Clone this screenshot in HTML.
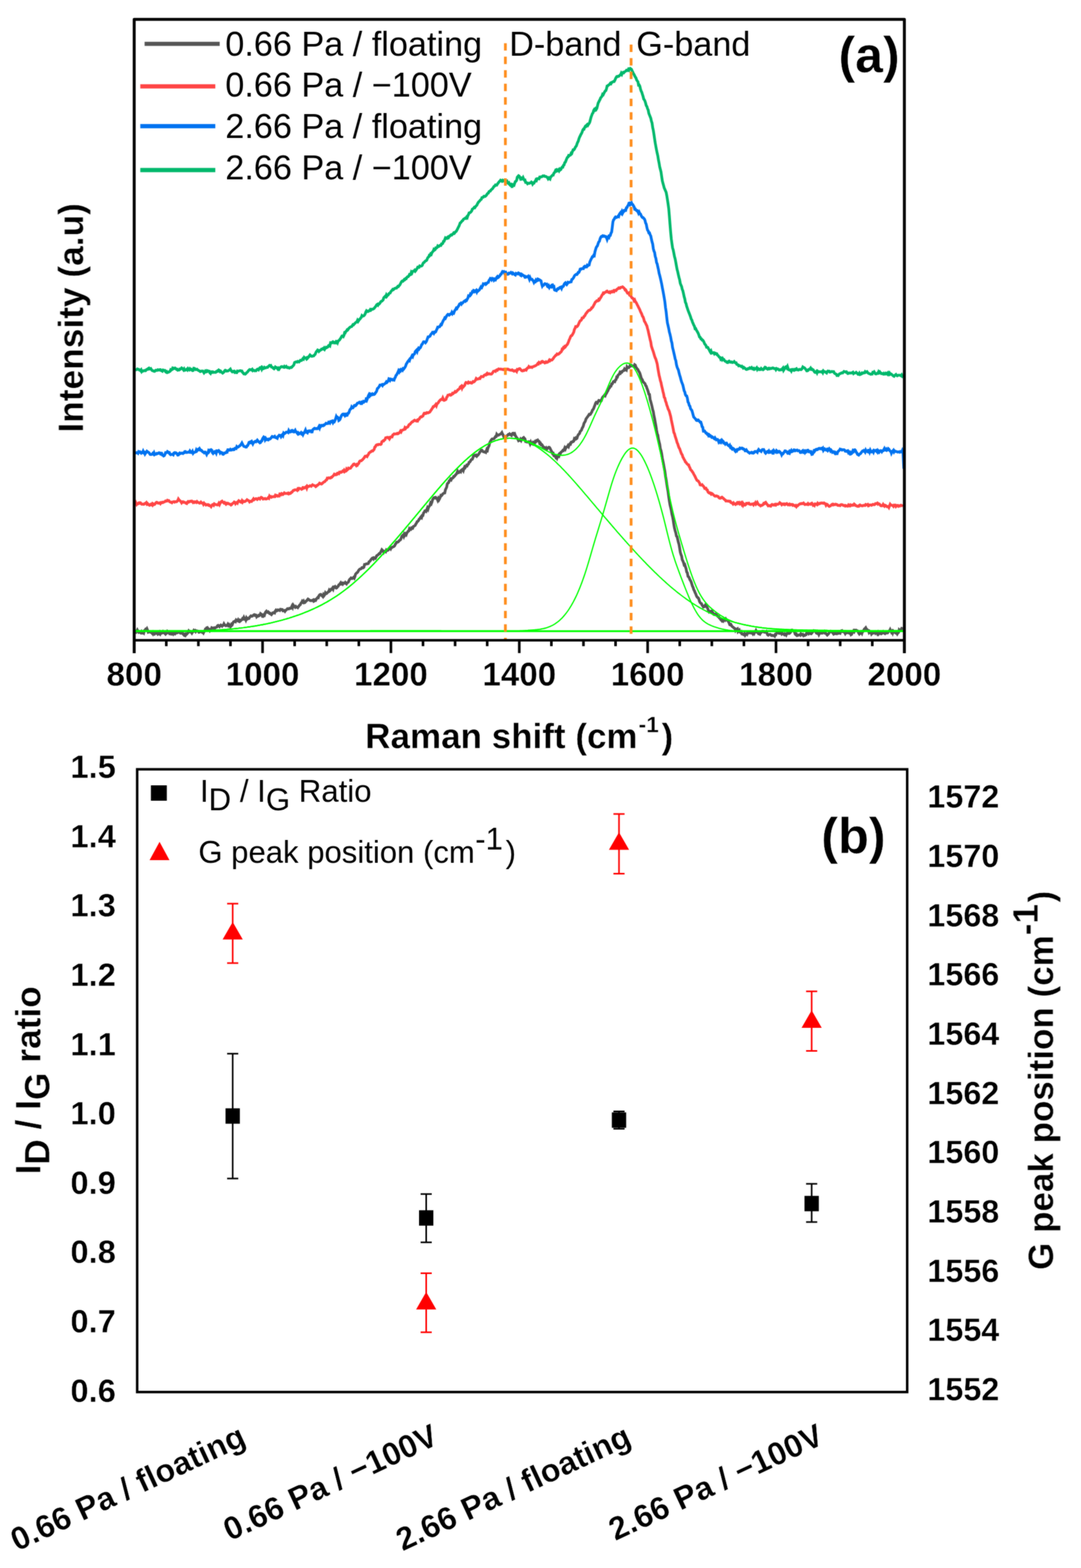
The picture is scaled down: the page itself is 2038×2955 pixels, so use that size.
<!DOCTYPE html>
<html lang="en"><head><meta charset="utf-8"><title>Raman spectra</title>
<style>
html,body{margin:0;padding:0;background:#fff;}
body{width:2038px;height:2955px;overflow:hidden;}
svg{display:block;}
#fig{width:2038px;height:2955px;}
text{font-family:'Liberation Sans', Arial, Helvetica, sans-serif;fill:#000;}
.b{font-weight:bold;stroke:#fff;stroke-width:0.5px;stroke-linejoin:round;}
</style></head><body>
<div id="fig">
<svg width="2038" height="2955" viewBox="0 0 2038 2955">
<rect x="0" y="0" width="2038" height="2955" fill="#ffffff"/>

<defs><filter id="soft" x="0" y="0" width="2038" height="2955" filterUnits="userSpaceOnUse" color-interpolation-filters="sRGB"><feGaussianBlur in="SourceGraphic" stdDeviation="1" result="b"/><feComposite in="SourceGraphic" in2="b" operator="arithmetic" k1="0" k2="0.5" k3="0.5" k4="0"/></filter></defs>
<g id="figure" filter="url(#soft)">
<g id="panel-a">
<clipPath id="ca"><rect x="253.0" y="36.6" width="1452.0" height="1169.7"/></clipPath>
<g clip-path="url(#ca)" fill="none" stroke-linejoin="miter" stroke-miterlimit="3" stroke-linecap="butt">
<path d="M255.2 696.9L256.5 696.9L257.7 696.5L258.9 695.3L260.1 695.9L261.3 696.0L262.5 697.2L263.7 697.1L264.9 698.5L266.1 697.0L267.3 700.3L268.6 698.9L269.8 699.4L271.0 698.6L272.2 698.2L273.4 698.7L274.6 698.5L275.8 696.8L277.0 696.1L278.2 696.1L279.4 694.4L280.7 693.7L281.9 695.5L283.1 695.1L284.3 694.6L285.5 696.6L286.7 698.2L287.9 698.8L289.1 698.9L290.3 699.8L291.5 699.9L292.8 698.5L294.0 697.6L295.2 698.1L296.4 698.0L297.6 696.8L298.8 697.2L300.0 697.5L301.2 696.6L302.4 696.6L303.6 698.3L304.9 698.8L306.1 699.6L307.3 697.3L308.5 697.6L309.7 697.8L310.9 697.9L312.1 700.5L313.3 701.4L314.5 700.4L315.7 702.1L317.0 701.6L318.2 701.2L319.4 700.3L320.6 699.7L321.8 696.7L323.0 697.4L324.2 696.6L325.4 693.9L326.6 694.9L327.8 693.8L329.1 694.3L330.3 693.7L331.5 694.8L332.7 696.1L333.9 695.8L335.1 697.6L336.3 697.1L337.5 697.2L338.7 695.5L339.9 695.9L341.2 694.6L342.4 693.4L343.6 694.2L344.8 695.6L346.0 697.2L347.2 695.3L348.4 697.8L349.6 697.5L350.8 696.9L352.0 695.8L353.3 697.2L354.5 694.7L355.7 696.1L356.9 697.0L358.1 695.0L359.3 696.4L360.5 695.9L361.7 697.4L362.9 698.4L364.1 698.2L365.4 694.0L366.6 694.2L367.8 695.2L369.0 696.6L370.2 696.3L371.4 695.8L372.6 697.2L373.8 697.8L375.0 698.7L376.2 699.1L377.5 700.2L378.7 699.8L379.9 699.2L381.1 699.3L382.3 699.2L383.5 700.8L384.7 702.8L385.9 701.3L387.1 699.3L388.3 700.4L389.6 698.8L390.8 699.9L392.0 698.8L393.2 699.3L394.4 699.4L395.6 702.5L396.8 703.7L398.0 700.7L399.2 700.5L400.4 701.7L401.7 700.9L402.9 701.8L404.1 701.7L405.3 701.7L406.5 701.8L407.7 700.2L408.9 700.3L410.1 698.8L411.3 699.3L412.5 697.3L413.8 698.1L415.0 700.3L416.2 699.6L417.4 701.3L418.6 702.0L419.8 703.1L421.0 702.3L422.2 701.2L423.4 698.8L424.6 697.8L425.9 698.3L427.1 699.4L428.3 699.2L429.5 699.1L430.7 698.4L431.9 697.7L433.1 696.7L434.3 695.6L435.5 698.1L436.7 699.5L438.0 700.9L439.2 700.6L440.4 699.4L441.6 699.3L442.8 701.8L444.0 701.2L445.2 702.2L446.4 702.3L447.6 699.3L448.8 699.8L450.1 699.3L451.3 698.9L452.5 698.6L453.7 698.6L454.9 699.4L456.1 699.3L457.3 701.9L458.5 702.8L459.7 704.6L460.9 704.5L462.2 705.0L463.4 704.2L464.6 702.7L465.8 701.8L467.0 700.6L468.2 698.8L469.4 697.7L470.6 696.5L471.8 696.9L473.0 696.6L474.3 697.3L475.5 696.1L476.7 698.5L477.9 697.7L479.1 698.2L480.3 698.9L481.5 698.4L482.7 698.6L483.9 697.1L485.1 695.9L486.4 695.5L487.6 696.8L488.8 695.0L490.0 693.2L491.2 693.7L492.4 692.5L493.6 695.7L494.8 693.3L496.0 695.0L497.2 694.6L498.5 692.4L499.7 693.3L500.9 693.4L502.1 692.5L503.3 692.1L504.5 692.3L505.7 690.8L506.9 689.9L508.1 688.7L509.3 689.3L510.6 688.8L511.8 691.7L513.0 692.0L514.2 692.6L515.4 694.2L516.6 695.0L517.8 693.6L519.0 691.6L520.2 692.6L521.4 692.6L522.7 694.3L523.9 695.7L525.1 693.9L526.3 695.4L527.5 693.2L528.7 692.4L529.9 691.1L531.1 690.9L532.3 691.0L533.5 691.9L534.8 692.1L536.0 690.6L537.2 692.0L538.4 691.4L539.6 690.5L540.8 692.5L542.0 693.0L543.2 692.4L544.4 693.3L545.6 693.8L546.9 692.8L548.1 692.2L549.3 692.6L550.5 691.6L551.7 690.0L552.9 689.1L554.1 687.4L555.3 683.3L556.5 682.6L557.7 682.1L559.0 681.9L560.2 682.4L561.4 681.1L562.6 681.5L563.8 682.0L565.0 680.6L566.2 679.1L567.4 679.6L568.6 679.2L569.8 677.4L571.1 675.7L572.3 676.7L573.5 673.7L574.7 674.9L575.9 674.7L577.1 674.3L578.3 676.7L579.5 675.7L580.7 673.1L581.9 672.9L583.2 670.6L584.4 668.9L585.6 670.1L586.8 671.1L588.0 671.5L589.2 671.1L590.4 670.9L591.6 670.7L592.8 668.9L594.0 668.1L595.3 664.8L596.5 662.6L597.7 661.4L598.9 659.6L600.1 660.2L601.3 662.3L602.5 661.2L603.7 660.0L604.9 659.6L606.1 658.0L607.4 658.1L608.6 657.0L609.8 657.7L611.0 655.9L612.2 658.0L613.4 656.0L614.6 654.6L615.8 655.2L617.0 654.3L618.2 653.7L619.5 651.1L620.7 650.7L621.9 651.7L623.1 646.1L624.3 646.5L625.5 645.4L626.7 645.7L627.9 644.2L629.1 644.9L630.3 646.1L631.6 645.3L632.8 646.0L634.0 643.2L635.2 643.5L636.4 645.7L637.6 642.5L638.8 641.6L640.0 640.8L641.2 638.8L642.4 637.4L643.7 634.9L644.9 633.0L646.1 633.0L647.3 634.2L648.5 631.8L649.7 626.8L650.9 627.1L652.1 624.5L653.3 623.8L654.5 621.4L655.8 621.6L657.0 619.5L658.2 618.4L659.4 617.0L660.6 616.2L661.8 615.7L663.0 615.5L664.2 613.6L665.4 611.7L666.6 612.2L667.9 610.5L669.1 609.5L670.3 608.0L671.5 607.4L672.7 606.5L673.9 603.8L675.1 605.9L676.3 604.2L677.5 601.9L678.7 601.3L680.0 599.3L681.2 598.0L682.4 594.8L683.6 595.9L684.8 595.5L686.0 595.1L687.2 593.7L688.4 591.7L689.6 588.0L690.8 585.8L692.1 587.1L693.3 586.2L694.5 586.8L695.7 585.7L696.9 585.6L698.1 583.4L699.3 584.3L700.5 582.8L701.7 582.9L702.9 582.7L704.2 581.8L705.4 581.2L706.6 579.4L707.8 578.2L709.0 576.4L710.2 574.3L711.4 573.5L712.6 574.9L713.8 572.7L715.0 572.8L716.3 571.2L717.5 569.1L718.7 567.8L719.9 567.5L721.1 566.5L722.3 565.1L723.5 561.3L724.7 559.7L725.9 558.6L727.1 559.4L728.4 555.9L729.6 558.0L730.8 556.3L732.0 555.7L733.2 553.4L734.4 552.6L735.6 552.2L736.8 549.6L738.0 548.3L739.2 547.0L740.5 545.2L741.7 545.8L742.9 544.6L744.1 543.5L745.3 543.4L746.5 542.6L747.7 542.7L748.9 541.1L750.1 539.5L751.3 539.9L752.6 538.1L753.8 536.9L755.0 534.6L756.2 532.2L757.4 530.3L758.6 529.4L759.8 529.9L761.0 528.7L762.2 526.6L763.4 527.0L764.7 524.9L765.9 525.1L767.1 522.8L768.3 521.5L769.5 521.4L770.7 520.0L771.9 517.4L773.1 517.9L774.3 517.5L775.5 512.9L776.8 514.4L778.0 511.4L779.2 511.0L780.4 510.9L781.6 509.4L782.8 511.2L784.0 509.7L785.2 507.5L786.4 506.1L787.6 503.3L788.9 503.0L790.1 503.6L791.3 501.2L792.5 501.8L793.7 501.5L794.9 501.1L796.1 500.0L797.3 496.8L798.5 494.9L799.7 494.5L801.0 492.7L802.2 491.6L803.4 491.4L804.6 490.2L805.8 487.0L807.0 484.8L808.2 484.1L809.4 481.0L810.6 481.3L811.8 478.6L813.1 479.4L814.3 476.3L815.5 474.6L816.7 473.3L817.9 470.1L819.1 471.3L820.3 470.5L821.5 467.3L822.7 467.6L823.9 466.7L825.2 463.7L826.4 464.8L827.6 464.3L828.8 462.8L830.0 462.2L831.2 462.5L832.4 459.7L833.6 459.7L834.8 458.8L836.0 454.8L837.3 454.6L838.5 451.4L839.7 448.4L840.9 449.3L842.1 448.2L843.3 448.9L844.5 446.9L845.7 447.7L846.9 445.1L848.1 445.0L849.4 443.2L850.6 442.4L851.8 442.9L853.0 441.6L854.2 440.6L855.4 438.9L856.6 439.7L857.8 438.2L859.0 436.5L860.2 436.0L861.5 433.5L862.7 431.3L863.9 428.7L865.1 426.7L866.3 423.7L867.5 420.3L868.7 419.5L869.9 418.0L871.1 416.3L872.3 415.8L873.6 413.4L874.8 412.4L876.0 411.9L877.2 411.0L878.4 411.5L879.6 409.3L880.8 410.3L882.0 406.4L883.2 404.4L884.4 401.1L885.7 401.0L886.9 400.2L888.1 398.9L889.3 397.5L890.5 394.1L891.7 393.4L892.9 392.3L894.1 390.7L895.3 391.3L896.5 389.4L897.8 387.9L899.0 386.8L900.2 383.9L901.4 382.0L902.6 380.1L903.8 379.4L905.0 377.6L906.2 376.4L907.4 375.6L908.6 372.3L909.9 371.9L911.1 371.6L912.3 369.8L913.5 369.8L914.7 370.1L915.9 369.0L917.1 367.8L918.3 365.8L919.5 364.4L920.7 363.9L922.0 361.0L923.2 360.2L924.4 360.1L925.6 358.1L926.8 357.1L928.0 356.1L929.2 354.7L930.4 352.7L931.6 351.0L932.8 350.6L934.1 348.5L935.3 348.8L936.5 349.0L937.7 347.0L938.9 345.4L940.1 343.8L941.3 342.2L942.5 341.3L943.7 339.6L944.9 340.2L946.2 341.4L947.4 340.0L948.6 341.3L949.8 340.6L951.0 339.5L952.2 340.5L953.4 340.3L954.6 342.2L955.8 341.4L957.0 344.7L958.3 345.5L959.5 344.5L960.7 347.5L961.9 348.8L963.1 347.7L964.3 350.2L965.5 348.5L966.7 350.3L967.9 348.4L969.1 349.0L970.4 345.2L971.6 342.0L972.8 341.6L974.0 339.8L975.2 333.9L976.4 332.6L977.6 331.2L978.8 331.9L980.0 334.5L981.2 337.1L982.5 335.8L983.7 337.5L984.9 336.7L986.1 334.6L987.3 337.6L988.5 339.5L989.7 339.3L990.9 343.7L992.1 343.8L993.3 344.5L994.6 346.4L995.8 345.5L997.0 345.2L998.2 345.5L999.4 344.7L1000.6 344.4L1001.8 343.1L1003.0 344.0L1004.2 346.9L1005.4 345.2L1006.7 345.2L1007.9 342.7L1009.1 341.6L1010.3 338.9L1011.5 340.0L1012.7 336.8L1013.9 337.0L1015.1 336.4L1016.3 336.9L1017.5 333.7L1018.8 334.0L1020.0 333.2L1021.2 333.2L1022.4 332.6L1023.6 331.4L1024.8 331.8L1026.0 331.4L1027.2 332.5L1028.4 332.6L1029.6 332.7L1030.9 333.8L1032.1 334.7L1033.3 336.9L1034.5 335.2L1035.7 336.4L1036.9 337.4L1038.1 333.6L1039.3 332.6L1040.5 331.2L1041.7 330.0L1043.0 330.0L1044.2 326.3L1045.4 325.4L1046.6 322.9L1047.8 320.1L1049.0 319.6L1050.2 322.2L1051.4 321.5L1052.6 320.2L1053.8 321.9L1055.1 319.0L1056.3 320.3L1057.5 319.4L1058.7 316.4L1059.9 314.9L1061.1 315.0L1062.3 311.4L1063.5 310.8L1064.7 306.6L1065.9 305.6L1067.2 302.2L1068.4 299.2L1069.6 296.6L1070.8 296.0L1072.0 293.1L1073.2 293.6L1074.4 292.6L1075.6 292.1L1076.8 288.6L1078.0 289.1L1079.3 285.2L1080.5 282.3L1081.7 282.5L1082.9 281.3L1084.1 278.6L1085.3 276.5L1086.5 275.2L1087.7 271.6L1088.9 268.4L1090.1 266.2L1091.4 261.7L1092.6 258.5L1093.8 256.3L1095.0 253.6L1096.2 251.7L1097.4 249.0L1098.6 245.4L1099.8 243.5L1101.0 243.6L1102.2 240.3L1103.5 238.1L1104.7 238.4L1105.9 235.7L1107.1 234.6L1108.3 236.1L1109.5 234.1L1110.7 232.6L1111.9 230.0L1113.1 225.5L1114.3 220.8L1115.6 217.3L1116.8 214.1L1118.0 212.7L1119.2 208.4L1120.4 206.4L1121.6 207.5L1122.8 205.1L1124.0 206.4L1125.2 204.3L1126.4 199.6L1127.7 194.2L1128.9 192.0L1130.1 189.4L1131.3 187.3L1132.5 184.2L1133.7 183.0L1134.9 181.3L1136.1 177.7L1137.3 178.4L1138.5 175.8L1139.8 173.4L1141.0 171.5L1142.2 170.8L1143.4 167.2L1144.6 162.1L1145.8 161.7L1147.0 160.4L1148.2 159.8L1149.4 158.8L1150.6 157.0L1151.9 157.8L1153.1 155.3L1154.3 155.0L1155.5 154.2L1156.7 153.4L1157.9 153.6L1159.1 151.7L1160.3 148.6L1161.5 146.0L1162.7 144.4L1164.0 144.6L1165.2 143.6L1166.4 143.7L1167.6 142.7L1168.8 141.6L1170.0 140.8L1171.2 137.9L1172.4 139.9L1173.6 137.0L1174.8 136.3L1176.1 137.1L1177.3 135.5L1178.5 134.9L1179.7 133.9L1180.9 132.5L1182.1 133.2L1183.3 133.1L1184.5 130.7L1185.7 132.0L1186.9 129.2L1188.2 128.8L1189.4 129.9L1190.6 130.7L1191.8 133.8L1193.0 135.8L1194.2 138.7L1195.4 140.4L1196.6 143.0L1197.8 145.1L1199.0 147.0L1200.3 150.8L1201.5 152.5L1202.7 154.0L1203.9 160.4L1205.1 160.2L1206.3 162.5L1207.5 167.7L1208.7 171.4L1209.9 173.8L1211.1 177.7L1212.4 181.8L1213.6 186.7L1214.8 188.2L1216.0 190.6L1217.2 194.5L1218.4 199.1L1219.6 200.6L1220.8 204.8L1222.0 207.2L1223.2 213.6L1224.5 216.8L1225.7 219.7L1226.9 222.8L1228.1 228.4L1229.3 231.9L1230.5 240.4L1231.7 245.8L1232.9 253.4L1234.1 261.7L1235.3 269.4L1236.6 276.6L1237.8 282.9L1239.0 288.7L1240.2 293.9L1241.4 301.6L1242.6 307.4L1243.8 314.8L1245.0 319.2L1246.2 324.0L1247.4 332.3L1248.7 341.0L1249.9 345.5L1251.1 349.8L1252.3 354.4L1253.5 356.9L1254.7 359.7L1255.9 362.6L1257.1 368.7L1258.3 376.2L1259.5 384.0L1260.8 393.5L1262.0 407.7L1263.2 423.3L1264.4 437.8L1265.6 450.3L1266.8 459.0L1268.0 467.2L1269.2 470.9L1270.4 477.1L1271.6 483.5L1272.9 488.0L1274.1 494.5L1275.3 501.3L1276.5 507.7L1277.7 512.2L1278.9 517.7L1280.1 522.9L1281.3 527.0L1282.5 533.8L1283.7 537.0L1285.0 539.9L1286.2 545.2L1287.4 548.1L1288.6 553.3L1289.8 559.0L1291.0 563.2L1292.2 569.8L1293.4 572.1L1294.6 577.2L1295.8 580.6L1297.1 584.6L1298.3 587.7L1299.5 590.7L1300.7 593.9L1301.9 597.0L1303.1 601.2L1304.3 603.0L1305.5 607.1L1306.7 609.6L1307.9 612.6L1309.2 614.8L1310.4 619.4L1311.6 619.3L1312.8 622.1L1314.0 623.9L1315.2 626.1L1316.4 628.4L1317.6 631.4L1318.8 635.0L1320.0 635.5L1321.3 638.6L1322.5 638.7L1323.7 641.0L1324.9 641.0L1326.1 642.7L1327.3 645.1L1328.5 648.1L1329.7 649.3L1330.9 651.2L1332.1 654.4L1333.4 654.4L1334.6 654.8L1335.8 657.5L1337.0 659.0L1338.2 661.7L1339.4 663.7L1340.6 661.7L1341.8 665.5L1343.0 665.1L1344.2 664.8L1345.5 664.6L1346.7 666.7L1347.9 665.2L1349.1 665.6L1350.3 667.1L1351.5 666.9L1352.7 669.4L1353.9 670.0L1355.1 671.7L1356.3 673.3L1357.6 673.7L1358.8 676.9L1360.0 675.8L1361.2 677.8L1362.4 675.8L1363.6 677.7L1364.8 677.5L1366.0 679.7L1367.2 680.8L1368.4 680.9L1369.7 682.4L1370.9 683.2L1372.1 683.3L1373.3 681.1L1374.5 680.5L1375.7 681.7L1376.9 682.6L1378.1 682.3L1379.3 682.1L1380.5 683.2L1381.8 683.0L1383.0 682.6L1384.2 681.4L1385.4 683.0L1386.6 683.8L1387.8 683.7L1389.0 686.6L1390.2 686.9L1391.4 687.3L1392.6 689.3L1393.9 688.9L1395.1 689.3L1396.3 690.2L1397.5 690.9L1398.7 690.2L1399.9 691.7L1401.1 693.4L1402.3 692.2L1403.5 693.2L1404.7 694.1L1406.0 695.7L1407.2 696.2L1408.4 696.0L1409.6 694.8L1410.8 695.1L1412.0 694.2L1413.2 693.2L1414.4 694.3L1415.6 693.5L1416.8 692.6L1418.1 694.7L1419.3 694.2L1420.5 695.6L1421.7 694.4L1422.9 695.8L1424.1 694.7L1425.3 694.3L1426.5 693.0L1427.7 696.1L1428.9 694.3L1430.2 695.1L1431.4 696.5L1432.6 695.9L1433.8 696.3L1435.0 694.5L1436.2 695.8L1437.4 695.8L1438.6 696.8L1439.8 696.0L1441.0 693.4L1442.3 692.0L1443.5 692.4L1444.7 694.4L1445.9 695.0L1447.1 695.7L1448.3 694.2L1449.5 693.8L1450.7 695.3L1451.9 694.9L1453.1 694.1L1454.4 694.5L1455.6 693.9L1456.8 693.3L1458.0 693.7L1459.2 694.6L1460.4 694.6L1461.6 694.5L1462.8 696.6L1464.0 694.7L1465.2 695.5L1466.5 695.2L1467.7 696.2L1468.9 697.3L1470.1 697.3L1471.3 696.6L1472.5 697.0L1473.7 696.7L1474.9 694.9L1476.1 693.5L1477.3 697.8L1478.6 695.8L1479.8 694.1L1481.0 691.6L1482.2 691.1L1483.4 693.2L1484.6 690.7L1485.8 694.3L1487.0 696.8L1488.2 697.0L1489.4 697.7L1490.7 697.0L1491.9 699.2L1493.1 696.5L1494.3 696.2L1495.5 697.4L1496.7 698.0L1497.9 696.4L1499.1 697.0L1500.3 695.5L1501.5 694.8L1502.8 696.9L1504.0 697.1L1505.2 697.4L1506.4 696.3L1507.6 696.2L1508.8 696.3L1510.0 696.6L1511.2 695.9L1512.4 694.3L1513.6 691.5L1514.9 692.5L1516.1 692.8L1517.3 693.9L1518.5 695.3L1519.7 696.8L1520.9 698.8L1522.1 698.8L1523.3 698.3L1524.5 696.3L1525.7 696.2L1527.0 695.3L1528.2 693.7L1529.4 696.0L1530.6 695.5L1531.8 696.9L1533.0 696.9L1534.2 698.6L1535.4 700.8L1536.6 701.9L1537.8 701.8L1539.1 700.2L1540.3 702.6L1541.5 699.4L1542.7 700.3L1543.9 701.0L1545.1 700.6L1546.3 700.7L1547.5 700.8L1548.7 701.1L1549.9 700.1L1551.2 702.3L1552.4 699.2L1553.6 700.6L1554.8 700.5L1556.0 700.8L1557.2 701.9L1558.4 702.8L1559.6 700.3L1560.8 699.2L1562.0 699.7L1563.3 699.5L1564.5 701.3L1565.7 701.2L1566.9 700.7L1568.1 700.1L1569.3 700.4L1570.5 700.4L1571.7 700.4L1572.9 702.9L1574.1 704.0L1575.4 704.7L1576.6 705.2L1577.8 707.7L1579.0 707.5L1580.2 707.8L1581.4 705.9L1582.6 704.6L1583.8 704.1L1585.0 703.8L1586.2 702.8L1587.5 702.5L1588.7 702.8L1589.9 701.6L1591.1 700.1L1592.3 700.5L1593.5 700.5L1594.7 701.4L1595.9 700.8L1597.1 702.4L1598.3 704.0L1599.6 703.8L1600.8 702.9L1602.0 702.8L1603.2 703.0L1604.4 702.8L1605.6 702.9L1606.8 702.2L1608.0 701.5L1609.2 704.0L1610.4 703.1L1611.7 703.0L1612.9 702.7L1614.1 701.7L1615.3 702.8L1616.5 703.9L1617.7 705.4L1618.9 705.4L1620.1 703.4L1621.3 705.9L1622.5 705.6L1623.8 704.9L1625.0 702.9L1626.2 703.5L1627.4 702.6L1628.6 702.9L1629.8 702.7L1631.0 700.5L1632.2 701.7L1633.4 701.1L1634.6 700.4L1635.9 702.3L1637.1 703.4L1638.3 703.8L1639.5 704.6L1640.7 704.8L1641.9 705.3L1643.1 704.7L1644.3 704.9L1645.5 701.6L1646.7 701.9L1648.0 700.6L1649.2 702.5L1650.4 704.5L1651.6 704.8L1652.8 704.4L1654.0 703.5L1655.2 703.6L1656.4 700.6L1657.6 702.3L1658.8 700.9L1660.1 702.7L1661.3 704.0L1662.5 703.6L1663.7 704.5L1664.9 705.0L1666.1 703.7L1667.3 705.1L1668.5 705.0L1669.7 703.5L1670.9 704.5L1672.2 703.5L1673.4 705.1L1674.6 703.0L1675.8 705.0L1677.0 703.1L1678.2 705.3L1679.4 704.5L1680.6 705.1L1681.8 706.3L1683.0 707.4L1684.3 708.5L1685.5 709.1L1686.7 707.4L1687.9 706.7L1689.1 705.8L1690.3 707.6L1691.5 708.2L1692.7 707.5L1693.9 707.1L1695.1 707.0L1696.4 707.0L1697.6 707.5L1698.8 708.2L1700.0 706.5L1701.2 708.7L1702.4 707.1" stroke="#00b86b" stroke-width="5.2"/>
<path d="M255.2 851.2L256.5 853.6L257.7 853.5L258.9 853.2L260.1 854.3L261.3 851.4L262.5 852.3L263.7 851.5L264.9 852.8L266.1 854.0L267.3 852.7L268.6 853.0L269.8 850.3L271.0 853.1L272.2 852.5L273.4 855.6L274.6 853.8L275.8 852.5L277.0 850.4L278.2 851.3L279.4 852.3L280.7 852.9L281.9 854.6L283.1 856.5L284.3 856.7L285.5 856.5L286.7 856.0L287.9 854.5L289.1 855.7L290.3 853.3L291.5 856.7L292.8 855.8L294.0 856.0L295.2 854.6L296.4 855.1L297.6 854.2L298.8 854.3L300.0 853.2L301.2 853.6L302.4 855.2L303.6 854.0L304.9 854.1L306.1 857.6L307.3 857.8L308.5 859.3L309.7 858.8L310.9 856.5L312.1 853.1L313.3 853.2L314.5 852.8L315.7 850.9L317.0 851.8L318.2 853.3L319.4 853.0L320.6 856.1L321.8 857.0L323.0 856.3L324.2 856.3L325.4 856.1L326.6 857.0L327.8 853.8L329.1 853.0L330.3 853.8L331.5 853.2L332.7 854.0L333.9 855.9L335.1 857.7L336.3 857.5L337.5 854.6L338.7 853.7L339.9 854.9L341.2 854.4L342.4 853.9L343.6 854.4L344.8 854.8L346.0 853.3L347.2 853.2L348.4 851.0L349.6 850.9L350.8 852.6L352.0 852.8L353.3 852.4L354.5 852.0L355.7 852.2L356.9 852.4L358.1 849.8L359.3 851.4L360.5 852.9L361.7 853.1L362.9 850.9L364.1 854.2L365.4 852.6L366.6 852.4L367.8 852.1L369.0 851.5L370.2 847.8L371.4 849.5L372.6 847.7L373.8 846.5L375.0 847.3L376.2 845.5L377.5 847.5L378.7 848.8L379.9 848.7L381.1 850.3L382.3 851.6L383.5 852.2L384.7 853.3L385.9 852.0L387.1 852.1L388.3 853.8L389.6 856.4L390.8 853.7L392.0 853.7L393.2 849.4L394.4 850.6L395.6 848.2L396.8 848.2L398.0 847.4L399.2 848.3L400.4 853.0L401.7 854.6L402.9 853.0L404.1 851.5L405.3 852.6L406.5 851.2L407.7 853.8L408.9 849.7L410.1 849.7L411.3 850.5L412.5 849.3L413.8 850.6L415.0 853.7L416.2 852.2L417.4 852.7L418.6 853.1L419.8 856.0L421.0 856.2L422.2 855.0L423.4 853.5L424.6 853.7L425.9 853.3L427.1 851.4L428.3 851.8L429.5 847.5L430.7 847.5L431.9 848.2L433.1 848.3L434.3 846.8L435.5 848.0L436.7 848.1L438.0 846.9L439.2 846.6L440.4 847.6L441.6 847.3L442.8 844.9L444.0 844.7L445.2 845.2L446.4 841.8L447.6 843.0L448.8 842.6L450.1 841.7L451.3 840.5L452.5 840.0L453.7 838.2L454.9 836.8L456.1 834.7L457.3 837.1L458.5 839.4L459.7 841.2L460.9 841.4L462.2 842.0L463.4 842.7L464.6 842.6L465.8 840.1L467.0 839.7L468.2 837.0L469.4 833.6L470.6 833.1L471.8 836.4L473.0 832.4L474.3 831.5L475.5 834.0L476.7 836.5L477.9 834.1L479.1 833.6L480.3 832.1L481.5 831.6L482.7 832.4L483.9 830.9L485.1 829.4L486.4 831.0L487.6 832.8L488.8 833.1L490.0 834.5L491.2 834.0L492.4 831.3L493.6 831.0L494.8 827.2L496.0 825.1L497.2 823.5L498.5 824.5L499.7 828.6L500.9 826.3L502.1 828.5L503.3 827.8L504.5 828.9L505.7 829.1L506.9 827.4L508.1 827.6L509.3 827.2L510.6 825.9L511.8 824.2L513.0 822.6L514.2 823.0L515.4 823.6L516.6 823.1L517.8 822.3L519.0 824.4L520.2 824.7L521.4 825.3L522.7 826.1L523.9 822.6L525.1 821.8L526.3 820.3L527.5 820.9L528.7 820.6L529.9 823.1L531.1 821.3L532.3 819.5L533.5 821.2L534.8 816.2L536.0 817.4L537.2 816.6L538.4 815.5L539.6 814.4L540.8 814.5L542.0 814.1L543.2 815.0L544.4 811.3L545.6 813.3L546.9 814.2L548.1 813.5L549.3 811.8L550.5 812.9L551.7 811.7L552.9 813.2L554.1 814.0L555.3 812.8L556.5 811.0L557.7 813.8L559.0 813.9L560.2 816.4L561.4 817.8L562.6 816.0L563.8 817.6L565.0 816.9L566.2 816.3L567.4 815.2L568.6 817.5L569.8 816.6L571.1 819.2L572.3 816.6L573.5 815.9L574.7 813.2L575.9 810.5L577.1 814.1L578.3 815.0L579.5 815.8L580.7 812.4L581.9 812.1L583.2 813.0L584.4 811.9L585.6 811.9L586.8 812.3L588.0 815.8L589.2 810.9L590.4 809.0L591.6 808.0L592.8 807.2L594.0 808.0L595.3 807.6L596.5 808.0L597.7 807.7L598.9 807.8L600.1 806.1L601.3 803.9L602.5 806.5L603.7 802.6L604.9 803.4L606.1 801.6L607.4 802.1L608.6 802.5L609.8 801.1L611.0 801.5L612.2 800.3L613.4 799.0L614.6 797.7L615.8 798.3L617.0 798.1L618.2 798.1L619.5 795.6L620.7 796.2L621.9 797.3L623.1 794.6L624.3 794.9L625.5 793.6L626.7 793.2L627.9 796.3L629.1 794.3L630.3 794.8L631.6 792.1L632.8 789.0L634.0 785.0L635.2 787.2L636.4 786.3L637.6 787.3L638.8 792.5L640.0 791.7L641.2 789.8L642.4 786.4L643.7 783.4L644.9 781.7L646.1 780.4L647.3 780.3L648.5 781.6L649.7 778.6L650.9 782.7L652.1 781.2L653.3 782.9L654.5 782.7L655.8 778.9L657.0 778.8L658.2 776.5L659.4 772.6L660.6 771.0L661.8 770.3L663.0 766.8L664.2 768.3L665.4 768.6L666.6 767.0L667.9 764.2L669.1 763.8L670.3 764.5L671.5 763.5L672.7 761.4L673.9 759.8L675.1 759.7L676.3 758.9L677.5 758.1L678.7 759.1L680.0 760.6L681.2 760.6L682.4 755.6L683.6 758.4L684.8 756.7L686.0 757.6L687.2 756.0L688.4 755.8L689.6 755.9L690.8 749.1L692.1 752.7L693.3 749.6L694.5 745.8L695.7 743.5L696.9 745.7L698.1 743.1L699.3 744.4L700.5 742.8L701.7 742.1L702.9 743.6L704.2 742.9L705.4 743.3L706.6 742.4L707.8 740.4L709.0 739.0L710.2 736.8L711.4 732.3L712.6 731.5L713.8 730.0L715.0 728.3L716.3 725.7L717.5 725.7L718.7 725.6L719.9 724.9L721.1 726.5L722.3 724.4L723.5 724.5L724.7 723.6L725.9 722.9L727.1 721.7L728.4 719.5L729.6 720.6L730.8 719.4L732.0 717.7L733.2 713.8L734.4 714.3L735.6 716.6L736.8 714.6L738.0 715.4L739.2 715.0L740.5 716.2L741.7 715.7L742.9 716.2L744.1 712.8L745.3 711.1L746.5 707.6L747.7 706.6L748.9 704.0L750.1 701.9L751.3 698.8L752.6 700.9L753.8 698.1L755.0 699.1L756.2 696.3L757.4 697.1L758.6 698.0L759.8 694.9L761.0 695.6L762.2 693.9L763.4 692.3L764.7 690.0L765.9 686.2L767.1 684.4L768.3 682.2L769.5 680.7L770.7 679.0L771.9 679.8L773.1 675.7L774.3 675.0L775.5 673.2L776.8 670.6L778.0 672.1L779.2 668.4L780.4 668.0L781.6 666.9L782.8 662.8L784.0 661.3L785.2 660.0L786.4 662.5L787.6 658.3L788.9 656.2L790.1 657.7L791.3 655.8L792.5 655.2L793.7 652.8L794.9 649.4L796.1 648.7L797.3 646.2L798.5 644.1L799.7 644.1L801.0 644.2L802.2 645.8L803.4 644.3L804.6 641.8L805.8 638.1L807.0 635.0L808.2 635.1L809.4 634.1L810.6 633.7L811.8 631.1L813.1 629.2L814.3 628.2L815.5 626.2L816.7 626.4L817.9 628.2L819.1 625.8L820.3 626.1L821.5 625.3L822.7 622.3L823.9 620.1L825.2 616.6L826.4 616.7L827.6 615.9L828.8 615.8L830.0 613.9L831.2 611.4L832.4 611.8L833.6 608.7L834.8 606.1L836.0 603.5L837.3 601.8L838.5 599.1L839.7 599.9L840.9 597.4L842.1 595.2L843.3 593.8L844.5 592.4L845.7 592.6L846.9 593.7L848.1 592.7L849.4 591.5L850.6 591.5L851.8 588.8L853.0 591.2L854.2 589.4L855.4 590.1L856.6 586.8L857.8 584.5L859.0 583.4L860.2 580.7L861.5 581.5L862.7 579.0L863.9 577.6L865.1 575.7L866.3 573.0L867.5 572.4L868.7 571.4L869.9 573.1L871.1 571.1L872.3 571.0L873.6 569.1L874.8 568.0L876.0 567.1L877.2 567.9L878.4 565.8L879.6 566.2L880.8 563.8L882.0 561.9L883.2 557.7L884.4 558.3L885.7 557.9L886.9 554.0L888.1 554.7L889.3 552.7L890.5 549.6L891.7 550.0L892.9 547.3L894.1 547.7L895.3 549.5L896.5 548.4L897.8 547.1L899.0 550.2L900.2 547.6L901.4 548.4L902.6 547.4L903.8 546.3L905.0 543.9L906.2 541.7L907.4 544.6L908.6 540.4L909.9 538.9L911.1 534.9L912.3 535.4L913.5 534.9L914.7 534.3L915.9 535.9L917.1 534.8L918.3 533.6L919.5 532.3L920.7 532.1L922.0 528.4L923.2 527.0L924.4 524.7L925.6 525.3L926.8 527.2L928.0 525.1L929.2 526.1L930.4 523.4L931.6 528.1L932.8 527.0L934.1 527.6L935.3 525.1L936.5 522.6L937.7 521.3L938.9 523.2L940.1 522.4L941.3 520.4L942.5 519.7L943.7 517.0L944.9 516.7L946.2 513.8L947.4 511.7L948.6 512.4L949.8 511.9L951.0 514.6L952.2 513.1L953.4 512.8L954.6 515.1L955.8 515.7L957.0 516.9L958.3 516.7L959.5 514.7L960.7 515.0L961.9 514.6L963.1 513.5L964.3 514.8L965.5 516.0L966.7 514.3L967.9 515.2L969.1 516.5L970.4 517.5L971.6 518.2L972.8 515.4L974.0 516.1L975.2 515.4L976.4 516.1L977.6 514.5L978.8 515.2L980.0 515.7L981.2 518.7L982.5 519.5L983.7 516.9L984.9 517.8L986.1 518.6L987.3 519.8L988.5 519.9L989.7 522.6L990.9 522.6L992.1 521.3L993.3 521.8L994.6 521.5L995.8 520.5L997.0 523.4L998.2 526.5L999.4 523.4L1000.6 526.2L1001.8 526.6L1003.0 526.4L1004.2 528.1L1005.4 529.1L1006.7 532.3L1007.9 530.3L1009.1 530.9L1010.3 528.0L1011.5 529.6L1012.7 528.9L1013.9 525.8L1015.1 526.2L1016.3 527.8L1017.5 527.5L1018.8 528.3L1020.0 529.2L1021.2 535.2L1022.4 539.1L1023.6 537.2L1024.8 537.5L1026.0 536.1L1027.2 534.6L1028.4 534.9L1029.6 535.8L1030.9 535.5L1032.1 539.8L1033.3 540.6L1034.5 538.8L1035.7 541.6L1036.9 539.5L1038.1 540.2L1039.3 540.8L1040.5 537.2L1041.7 536.9L1043.0 540.1L1044.2 539.8L1045.4 546.3L1046.6 547.0L1047.8 547.3L1049.0 547.7L1050.2 545.3L1051.4 544.1L1052.6 544.7L1053.8 543.7L1055.1 542.0L1056.3 541.5L1057.5 541.0L1058.7 543.4L1059.9 540.2L1061.1 540.3L1062.3 539.2L1063.5 535.9L1064.7 534.0L1065.9 533.0L1067.2 535.1L1068.4 536.4L1069.6 534.8L1070.8 531.9L1072.0 532.2L1073.2 532.2L1074.4 531.9L1075.6 531.2L1076.8 531.1L1078.0 526.6L1079.3 526.1L1080.5 524.6L1081.7 522.7L1082.9 520.0L1084.1 518.4L1085.3 517.7L1086.5 516.9L1087.7 517.3L1088.9 515.8L1090.1 513.3L1091.4 513.2L1092.6 510.9L1093.8 507.1L1095.0 506.7L1096.2 506.9L1097.4 506.1L1098.6 506.2L1099.8 506.3L1101.0 502.8L1102.2 501.9L1103.5 503.1L1104.7 502.1L1105.9 502.7L1107.1 499.9L1108.3 500.9L1109.5 499.8L1110.7 499.4L1111.9 494.0L1113.1 491.3L1114.3 488.6L1115.6 486.2L1116.8 483.8L1118.0 483.7L1119.2 481.2L1120.4 481.8L1121.6 474.7L1122.8 470.5L1124.0 466.5L1125.2 464.6L1126.4 463.0L1127.7 458.8L1128.9 455.8L1130.1 454.7L1131.3 450.2L1132.5 447.4L1133.7 445.7L1134.9 445.8L1136.1 444.5L1137.3 445.3L1138.5 444.4L1139.8 444.9L1141.0 446.0L1142.2 445.8L1143.4 447.9L1144.6 451.2L1145.8 447.8L1147.0 445.9L1148.2 447.3L1149.4 443.8L1150.6 443.6L1151.9 439.4L1153.1 437.3L1154.3 428.3L1155.5 418.3L1156.7 414.4L1157.9 413.2L1159.1 410.3L1160.3 409.0L1161.5 409.9L1162.7 409.7L1164.0 408.8L1165.2 407.4L1166.4 408.2L1167.6 403.8L1168.8 401.9L1170.0 400.4L1171.2 401.9L1172.4 398.9L1173.6 402.1L1174.8 399.8L1176.1 397.0L1177.3 397.5L1178.5 396.0L1179.7 396.3L1180.9 391.6L1182.1 391.2L1183.3 388.1L1184.5 386.8L1185.7 382.9L1186.9 382.6L1188.2 385.4L1189.4 384.0L1190.6 382.3L1191.8 385.3L1193.0 385.5L1194.2 387.8L1195.4 389.5L1196.6 394.0L1197.8 393.8L1199.0 395.9L1200.3 397.1L1201.5 396.9L1202.7 399.2L1203.9 401.9L1205.1 399.8L1206.3 402.5L1207.5 403.3L1208.7 406.1L1209.9 408.2L1211.1 409.8L1212.4 410.0L1213.6 411.6L1214.8 412.6L1216.0 415.4L1217.2 420.3L1218.4 422.6L1219.6 429.0L1220.8 433.6L1222.0 435.1L1223.2 438.8L1224.5 438.8L1225.7 442.4L1226.9 444.7L1228.1 450.7L1229.3 455.8L1230.5 459.9L1231.7 468.7L1232.9 473.0L1234.1 475.7L1235.3 483.2L1236.6 487.3L1237.8 494.8L1239.0 497.3L1240.2 503.2L1241.4 508.2L1242.6 514.9L1243.8 519.2L1245.0 524.1L1246.2 529.5L1247.4 534.9L1248.7 542.2L1249.9 548.3L1251.1 554.7L1252.3 561.6L1253.5 569.0L1254.7 579.8L1255.9 587.7L1257.1 599.2L1258.3 608.5L1259.5 613.6L1260.8 619.4L1262.0 625.9L1263.2 630.1L1264.4 635.4L1265.6 642.3L1266.8 646.4L1268.0 655.3L1269.2 659.6L1270.4 664.8L1271.6 670.1L1272.9 676.4L1274.1 679.6L1275.3 687.1L1276.5 691.7L1277.7 694.7L1278.9 697.1L1280.1 702.2L1281.3 706.7L1282.5 710.4L1283.7 715.2L1285.0 719.7L1286.2 722.6L1287.4 725.7L1288.6 731.0L1289.8 736.3L1291.0 738.7L1292.2 743.7L1293.4 745.8L1294.6 746.1L1295.8 750.0L1297.1 757.7L1298.3 759.5L1299.5 764.2L1300.7 765.3L1301.9 770.3L1303.1 772.0L1304.3 773.4L1305.5 777.3L1306.7 781.8L1307.9 786.0L1309.2 787.2L1310.4 788.8L1311.6 789.9L1312.8 792.1L1314.0 792.5L1315.2 791.4L1316.4 791.4L1317.6 793.2L1318.8 794.0L1320.0 795.7L1321.3 795.7L1322.5 799.3L1323.7 804.2L1324.9 805.2L1326.1 812.6L1327.3 812.6L1328.5 812.4L1329.7 814.3L1330.9 816.2L1332.1 816.2L1333.4 818.3L1334.6 818.1L1335.8 820.8L1337.0 819.7L1338.2 821.7L1339.4 821.1L1340.6 822.1L1341.8 824.0L1343.0 823.4L1344.2 824.5L1345.5 825.7L1346.7 826.7L1347.9 825.0L1349.1 827.0L1350.3 828.6L1351.5 827.8L1352.7 827.9L1353.9 829.7L1355.1 833.1L1356.3 831.5L1357.6 833.2L1358.8 831.1L1360.0 832.8L1361.2 829.7L1362.4 831.0L1363.6 831.9L1364.8 835.1L1366.0 835.1L1367.2 836.8L1368.4 835.2L1369.7 835.0L1370.9 837.3L1372.1 838.7L1373.3 839.8L1374.5 840.6L1375.7 839.1L1376.9 842.8L1378.1 842.0L1379.3 845.2L1380.5 846.4L1381.8 844.9L1383.0 845.6L1384.2 846.8L1385.4 849.2L1386.6 850.6L1387.8 848.8L1389.0 849.7L1390.2 847.1L1391.4 847.4L1392.6 846.3L1393.9 846.5L1395.1 844.3L1396.3 844.8L1397.5 845.2L1398.7 844.3L1399.9 844.7L1401.1 846.3L1402.3 846.2L1403.5 847.0L1404.7 849.5L1406.0 849.4L1407.2 848.0L1408.4 849.9L1409.6 851.2L1410.8 852.2L1412.0 852.8L1413.2 853.9L1414.4 853.1L1415.6 853.0L1416.8 852.4L1418.1 853.7L1419.3 853.1L1420.5 853.9L1421.7 853.0L1422.9 851.0L1424.1 850.7L1425.3 851.1L1426.5 851.6L1427.7 852.6L1428.9 849.1L1430.2 847.1L1431.4 848.5L1432.6 849.6L1433.8 849.8L1435.0 850.7L1436.2 848.3L1437.4 847.2L1438.6 847.6L1439.8 847.3L1441.0 849.4L1442.3 852.8L1443.5 854.2L1444.7 852.9L1445.9 851.2L1447.1 850.6L1448.3 851.8L1449.5 850.0L1450.7 852.7L1451.9 852.5L1453.1 851.3L1454.4 852.0L1455.6 850.8L1456.8 854.2L1458.0 854.2L1459.2 849.5L1460.4 851.0L1461.6 851.1L1462.8 852.1L1464.0 849.2L1465.2 850.3L1466.5 852.1L1467.7 851.0L1468.9 850.5L1470.1 851.2L1471.3 853.3L1472.5 854.0L1473.7 857.0L1474.9 854.7L1476.1 855.1L1477.3 853.4L1478.6 851.8L1479.8 849.7L1481.0 849.8L1482.2 851.1L1483.4 851.8L1484.6 853.5L1485.8 852.3L1487.0 854.3L1488.2 854.7L1489.4 850.1L1490.7 850.9L1491.9 849.0L1493.1 851.2L1494.3 850.8L1495.5 849.6L1496.7 847.8L1497.9 848.0L1499.1 849.6L1500.3 849.2L1501.5 848.5L1502.8 848.2L1504.0 849.6L1505.2 849.3L1506.4 849.2L1507.6 850.3L1508.8 852.7L1510.0 852.8L1511.2 852.4L1512.4 850.1L1513.6 849.2L1514.9 851.9L1516.1 850.7L1517.3 852.7L1518.5 850.2L1519.7 851.4L1520.9 849.7L1522.1 848.5L1523.3 848.4L1524.5 851.3L1525.7 850.9L1527.0 850.6L1528.2 852.5L1529.4 851.8L1530.6 856.4L1531.8 856.1L1533.0 853.3L1534.2 852.5L1535.4 846.7L1536.6 849.2L1537.8 847.4L1539.1 846.8L1540.3 847.6L1541.5 847.3L1542.7 845.6L1543.9 845.1L1545.1 844.9L1546.3 845.8L1547.5 845.1L1548.7 844.7L1549.9 846.1L1551.2 844.6L1552.4 848.7L1553.6 847.1L1554.8 845.9L1556.0 847.2L1557.2 848.1L1558.4 847.2L1559.6 848.5L1560.8 844.2L1562.0 847.4L1563.3 845.7L1564.5 847.5L1565.7 849.9L1566.9 848.3L1568.1 849.9L1569.3 852.4L1570.5 851.7L1571.7 851.3L1572.9 853.5L1574.1 854.6L1575.4 852.7L1576.6 853.7L1577.8 856.9L1579.0 852.3L1580.2 850.6L1581.4 849.4L1582.6 848.5L1583.8 846.5L1585.0 847.1L1586.2 846.9L1587.5 848.1L1588.7 847.6L1589.9 847.7L1591.1 847.5L1592.3 848.1L1593.5 850.3L1594.7 850.4L1595.9 850.7L1597.1 849.7L1598.3 849.4L1599.6 853.1L1600.8 852.1L1602.0 854.5L1603.2 853.0L1604.4 855.4L1605.6 854.7L1606.8 852.4L1608.0 849.3L1609.2 850.6L1610.4 848.0L1611.7 847.6L1612.9 848.8L1614.1 852.2L1615.3 853.3L1616.5 856.3L1617.7 857.0L1618.9 857.7L1620.1 856.1L1621.3 855.3L1622.5 854.7L1623.8 852.8L1625.0 851.2L1626.2 849.9L1627.4 850.2L1628.6 848.9L1629.8 850.1L1631.0 851.9L1632.2 848.4L1633.4 850.6L1634.6 850.6L1635.9 851.3L1637.1 848.6L1638.3 848.6L1639.5 851.9L1640.7 848.5L1641.9 851.0L1643.1 851.9L1644.3 851.4L1645.5 850.1L1646.7 852.3L1648.0 848.7L1649.2 849.3L1650.4 849.7L1651.6 848.9L1652.8 850.6L1654.0 849.0L1655.2 852.0L1656.4 850.3L1657.6 852.0L1658.8 850.2L1660.1 849.2L1661.3 849.4L1662.5 851.3L1663.7 849.5L1664.9 849.4L1666.1 847.6L1667.3 845.4L1668.5 848.2L1669.7 848.4L1670.9 846.5L1672.2 848.5L1673.4 847.6L1674.6 845.4L1675.8 846.4L1677.0 848.7L1678.2 850.1L1679.4 850.5L1680.6 854.1L1681.8 851.7L1683.0 850.2L1684.3 848.6L1685.5 851.6L1686.7 849.7L1687.9 850.7L1689.1 850.9L1690.3 851.1L1691.5 851.4L1692.7 852.0L1693.9 851.7L1695.1 851.3L1696.4 852.2L1697.6 851.0L1698.8 850.8L1700.0 851.7L1701.2 848.8L1702.4 851.4L1704.0 883.4" stroke="#0072f0" stroke-width="5.2"/>
<path d="M255.2 952.0L256.5 948.2L257.7 950.8L258.9 949.4L260.1 949.5L261.3 948.0L262.5 948.5L263.7 947.3L264.9 947.6L266.1 949.5L267.3 950.3L268.6 950.1L269.8 950.0L271.0 950.4L272.2 949.9L273.4 948.6L274.6 948.4L275.8 947.2L277.0 950.0L278.2 949.0L279.4 950.8L280.7 950.8L281.9 952.2L283.1 951.7L284.3 950.4L285.5 951.2L286.7 949.6L287.9 951.7L289.1 949.9L290.3 950.9L291.5 950.6L292.8 948.9L294.0 947.5L295.2 946.6L296.4 946.8L297.6 948.1L298.8 948.4L300.0 948.0L301.2 947.6L302.4 949.1L303.6 947.2L304.9 947.4L306.1 946.5L307.3 947.0L308.5 946.1L309.7 945.9L310.9 945.3L312.1 944.1L313.3 944.3L314.5 944.3L315.7 942.7L317.0 943.3L318.2 943.3L319.4 945.2L320.6 945.8L321.8 946.5L323.0 946.4L324.2 947.4L325.4 945.9L326.6 945.8L327.8 945.4L329.1 946.3L330.3 945.5L331.5 945.3L332.7 945.6L333.9 944.8L335.1 943.3L336.3 940.4L337.5 942.1L338.7 943.1L339.9 944.2L341.2 945.6L342.4 947.6L343.6 946.0L344.8 945.5L346.0 946.6L347.2 946.3L348.4 947.0L349.6 947.3L350.8 948.6L352.0 949.0L353.3 946.4L354.5 945.3L355.7 946.3L356.9 945.7L358.1 944.7L359.3 944.4L360.5 945.0L361.7 944.3L362.9 945.1L364.1 947.0L365.4 946.0L366.6 946.8L367.8 945.6L369.0 945.9L370.2 946.8L371.4 945.2L372.6 946.5L373.8 947.0L375.0 947.4L376.2 948.2L377.5 947.6L378.7 946.3L379.9 947.8L381.1 947.8L382.3 948.1L383.5 950.4L384.7 948.4L385.9 950.0L387.1 950.1L388.3 951.8L389.6 951.5L390.8 951.0L392.0 950.8L393.2 952.3L394.4 951.9L395.6 953.3L396.8 953.4L398.0 954.9L399.2 952.8L400.4 951.2L401.7 950.7L402.9 952.1L404.1 949.6L405.3 950.4L406.5 950.7L407.7 951.1L408.9 951.2L410.1 951.6L411.3 951.0L412.5 948.6L413.8 951.0L415.0 948.4L416.2 946.4L417.4 945.2L418.6 944.5L419.8 946.3L421.0 946.4L422.2 947.9L423.4 947.0L424.6 948.6L425.9 950.1L427.1 948.4L428.3 949.1L429.5 948.3L430.7 949.1L431.9 949.7L433.1 950.0L434.3 950.6L435.5 951.7L436.7 951.0L438.0 949.1L439.2 948.4L440.4 947.4L441.6 946.0L442.8 946.6L444.0 949.1L445.2 947.6L446.4 946.9L447.6 948.1L448.8 945.3L450.1 943.6L451.3 944.4L452.5 944.9L453.7 946.2L454.9 946.6L456.1 944.0L457.3 946.3L458.5 944.4L459.7 945.3L460.9 945.3L462.2 944.9L463.4 944.0L464.6 943.3L465.8 941.7L467.0 942.5L468.2 943.4L469.4 944.0L470.6 945.9L471.8 945.0L473.0 944.5L474.3 944.9L475.5 943.4L476.7 941.6L477.9 939.9L479.1 941.6L480.3 940.5L481.5 940.5L482.7 939.6L483.9 940.1L485.1 941.3L486.4 940.2L487.6 939.0L488.8 939.3L490.0 940.3L491.2 938.2L492.4 937.2L493.6 937.7L494.8 938.7L496.0 940.6L497.2 940.3L498.5 939.8L499.7 939.4L500.9 940.5L502.1 940.5L503.3 939.9L504.5 939.4L505.7 938.0L506.9 939.0L508.1 935.2L509.3 936.8L510.6 935.9L511.8 937.1L513.0 936.1L514.2 936.2L515.4 936.1L516.6 935.7L517.8 936.0L519.0 933.6L520.2 934.7L521.4 933.5L522.7 934.0L523.9 935.1L525.1 934.5L526.3 934.7L527.5 930.8L528.7 931.1L529.9 932.1L531.1 930.1L532.3 930.6L533.5 931.8L534.8 930.7L536.0 928.9L537.2 929.8L538.4 930.1L539.6 929.8L540.8 929.9L542.0 930.3L543.2 929.3L544.4 930.6L545.6 929.6L546.9 930.2L548.1 929.6L549.3 927.7L550.5 927.5L551.7 925.8L552.9 924.3L554.1 924.2L555.3 923.2L556.5 923.0L557.7 923.1L559.0 922.9L560.2 924.0L561.4 921.4L562.6 922.4L563.8 920.2L565.0 920.5L566.2 920.8L567.4 920.9L568.6 922.1L569.8 921.6L571.1 918.7L572.3 918.8L573.5 919.8L574.7 919.2L575.9 918.1L577.1 917.1L578.3 919.9L579.5 916.2L580.7 917.3L581.9 916.5L583.2 916.4L584.4 915.3L585.6 915.6L586.8 916.3L588.0 914.7L589.2 913.6L590.4 914.4L591.6 914.7L592.8 915.2L594.0 915.5L595.3 917.1L596.5 916.3L597.7 914.6L598.9 914.4L600.1 913.0L601.3 912.3L602.5 910.4L603.7 910.9L604.9 911.9L606.1 912.2L607.4 911.2L608.6 909.9L609.8 908.9L611.0 907.9L612.2 907.8L613.4 906.4L614.6 904.8L615.8 904.4L617.0 901.1L618.2 901.4L619.5 900.4L620.7 900.6L621.9 901.1L623.1 900.8L624.3 899.5L625.5 899.6L626.7 898.0L627.9 897.0L629.1 895.7L630.3 893.7L631.6 894.6L632.8 894.9L634.0 893.5L635.2 893.9L636.4 891.7L637.6 891.8L638.8 892.5L640.0 890.0L641.2 890.4L642.4 889.3L643.7 890.0L644.9 889.2L646.1 887.6L647.3 888.3L648.5 886.4L649.7 888.9L650.9 887.9L652.1 887.8L653.3 884.2L654.5 885.7L655.8 884.6L657.0 882.3L658.2 882.9L659.4 882.5L660.6 882.4L661.8 880.9L663.0 878.9L664.2 877.9L665.4 876.0L666.6 874.7L667.9 874.4L669.1 875.6L670.3 875.9L671.5 877.3L672.7 875.4L673.9 876.5L675.1 874.5L676.3 873.5L677.5 870.2L678.7 868.8L680.0 868.3L681.2 868.4L682.4 867.1L683.6 866.4L684.8 864.6L686.0 863.5L687.2 861.4L688.4 859.8L689.6 860.0L690.8 859.4L692.1 860.4L693.3 858.1L694.5 856.5L695.7 853.8L696.9 853.0L698.1 851.8L699.3 851.5L700.5 850.1L701.7 849.5L702.9 849.8L704.2 848.4L705.4 846.9L706.6 842.5L707.8 841.9L709.0 839.2L710.2 838.4L711.4 837.9L712.6 838.3L713.8 837.4L715.0 837.5L716.3 837.5L717.5 837.7L718.7 836.9L719.9 832.3L721.1 831.8L722.3 830.6L723.5 830.9L724.7 829.2L725.9 828.5L727.1 825.0L728.4 824.8L729.6 824.2L730.8 824.1L732.0 825.3L733.2 824.7L734.4 827.0L735.6 825.1L736.8 823.4L738.0 822.9L739.2 823.3L740.5 819.8L741.7 819.0L742.9 817.8L744.1 817.9L745.3 817.8L746.5 817.6L747.7 817.6L748.9 816.7L750.1 817.5L751.3 816.9L752.6 815.6L753.8 814.5L755.0 812.4L756.2 813.9L757.4 811.3L758.6 810.5L759.8 810.3L761.0 809.7L762.2 809.3L763.4 806.1L764.7 807.6L765.9 806.0L767.1 805.3L768.3 805.0L769.5 803.5L770.7 800.9L771.9 799.7L773.1 799.5L774.3 797.8L775.5 796.4L776.8 795.0L778.0 794.9L779.2 793.7L780.4 792.5L781.6 791.8L782.8 792.8L784.0 792.8L785.2 793.5L786.4 792.1L787.6 793.0L788.9 790.4L790.1 790.0L791.3 787.9L792.5 786.1L793.7 785.4L794.9 785.7L796.1 784.6L797.3 784.0L798.5 781.0L799.7 778.7L801.0 778.6L802.2 779.4L803.4 779.1L804.6 777.6L805.8 777.8L807.0 778.1L808.2 777.2L809.4 777.1L810.6 776.3L811.8 774.2L813.1 772.5L814.3 770.4L815.5 768.9L816.7 766.4L817.9 766.4L819.1 764.8L820.3 763.9L821.5 762.2L822.7 764.6L823.9 761.2L825.2 760.2L826.4 758.7L827.6 756.5L828.8 755.2L830.0 753.9L831.2 752.9L832.4 752.3L833.6 752.8L834.8 749.9L836.0 752.6L837.3 754.5L838.5 754.1L839.7 753.5L840.9 752.6L842.1 748.8L843.3 747.5L844.5 744.6L845.7 744.5L846.9 743.9L848.1 743.6L849.4 744.8L850.6 744.5L851.8 743.1L853.0 741.2L854.2 741.8L855.4 740.6L856.6 739.7L857.8 738.1L859.0 739.1L860.2 738.3L861.5 736.7L862.7 735.3L863.9 734.1L865.1 733.4L866.3 732.6L867.5 729.3L868.7 728.4L869.9 727.4L871.1 731.1L872.3 728.1L873.6 729.0L874.8 727.5L876.0 726.4L877.2 722.9L878.4 720.8L879.6 721.2L880.8 721.2L882.0 722.1L883.2 720.2L884.4 721.3L885.7 721.5L886.9 720.7L888.1 721.6L889.3 722.0L890.5 720.9L891.7 719.2L892.9 719.9L894.1 719.4L895.3 717.8L896.5 716.4L897.8 713.4L899.0 714.5L900.2 714.6L901.4 714.0L902.6 714.0L903.8 712.9L905.0 713.3L906.2 710.9L907.4 709.5L908.6 709.9L909.9 709.6L911.1 709.7L912.3 707.8L913.5 706.8L914.7 706.3L915.9 706.7L917.1 704.8L918.3 703.6L919.5 705.3L920.7 704.9L922.0 704.2L923.2 704.9L924.4 704.8L925.6 705.1L926.8 704.9L928.0 703.5L929.2 701.8L930.4 699.7L931.6 699.5L932.8 699.1L934.1 699.9L935.3 697.8L936.5 697.1L937.7 697.8L938.9 696.4L940.1 695.3L941.3 695.7L942.5 695.6L943.7 695.5L944.9 695.9L946.2 695.9L947.4 696.2L948.6 696.6L949.8 695.9L951.0 696.4L952.2 697.0L953.4 696.1L954.6 695.7L955.8 696.2L957.0 695.5L958.3 695.9L959.5 696.9L960.7 697.1L961.9 697.4L963.1 697.8L964.3 697.5L965.5 697.0L966.7 698.3L967.9 698.3L969.1 699.6L970.4 699.2L971.6 698.4L972.8 698.8L974.0 700.1L975.2 696.3L976.4 696.7L977.6 695.5L978.8 694.8L980.0 694.7L981.2 696.2L982.5 697.4L983.7 698.7L984.9 699.1L986.1 698.8L987.3 697.7L988.5 698.1L989.7 697.2L990.9 696.5L992.1 697.3L993.3 695.0L994.6 693.3L995.8 693.1L997.0 690.8L998.2 692.0L999.4 692.4L1000.6 691.6L1001.8 691.7L1003.0 692.5L1004.2 691.4L1005.4 690.8L1006.7 690.6L1007.9 689.7L1009.1 689.5L1010.3 688.7L1011.5 688.0L1012.7 686.9L1013.9 685.0L1015.1 685.7L1016.3 683.1L1017.5 684.0L1018.8 684.3L1020.0 682.8L1021.2 681.3L1022.4 681.0L1023.6 682.4L1024.8 682.2L1026.0 682.6L1027.2 684.0L1028.4 683.6L1029.6 682.0L1030.9 683.0L1032.1 682.8L1033.3 682.0L1034.5 680.2L1035.7 678.5L1036.9 679.8L1038.1 678.4L1039.3 678.7L1040.5 678.5L1041.7 677.2L1043.0 675.7L1044.2 673.7L1045.4 672.2L1046.6 671.0L1047.8 669.4L1049.0 669.2L1050.2 667.0L1051.4 667.3L1052.6 667.6L1053.8 666.5L1055.1 665.8L1056.3 664.1L1057.5 663.5L1058.7 661.9L1059.9 657.7L1061.1 657.9L1062.3 655.0L1063.5 655.5L1064.7 652.9L1065.9 653.6L1067.2 651.7L1068.4 650.2L1069.6 649.2L1070.8 646.7L1072.0 643.7L1073.2 640.2L1074.4 638.0L1075.6 634.7L1076.8 632.7L1078.0 632.4L1079.3 630.5L1080.5 628.2L1081.7 625.8L1082.9 620.8L1084.1 618.8L1085.3 615.4L1086.5 615.4L1087.7 615.7L1088.9 614.5L1090.1 612.4L1091.4 609.2L1092.6 606.6L1093.8 604.7L1095.0 604.2L1096.2 602.8L1097.4 599.3L1098.6 599.2L1099.8 598.7L1101.0 596.3L1102.2 595.4L1103.5 593.2L1104.7 590.8L1105.9 589.8L1107.1 587.7L1108.3 586.7L1109.5 585.1L1110.7 584.7L1111.9 584.7L1113.1 583.2L1114.3 582.6L1115.6 579.9L1116.8 579.7L1118.0 577.9L1119.2 575.4L1120.4 573.5L1121.6 570.7L1122.8 569.0L1124.0 568.2L1125.2 566.8L1126.4 567.0L1127.7 566.8L1128.9 564.0L1130.1 564.7L1131.3 562.5L1132.5 560.8L1133.7 558.7L1134.9 556.3L1136.1 554.9L1137.3 552.3L1138.5 552.9L1139.8 551.2L1141.0 551.0L1142.2 550.5L1143.4 549.0L1144.6 548.6L1145.8 549.9L1147.0 550.8L1148.2 551.2L1149.4 550.1L1150.6 551.4L1151.9 549.8L1153.1 549.2L1154.3 550.3L1155.5 550.1L1156.7 548.2L1157.9 549.2L1159.1 547.0L1160.3 547.0L1161.5 547.5L1162.7 545.7L1164.0 544.5L1165.2 544.0L1166.4 542.6L1167.6 543.3L1168.8 543.2L1170.0 541.6L1171.2 541.6L1172.4 541.0L1173.6 540.5L1174.8 541.5L1176.1 542.7L1177.3 543.9L1178.5 546.4L1179.7 546.3L1180.9 548.4L1182.1 550.9L1183.3 552.7L1184.5 553.0L1185.7 552.1L1186.9 556.2L1188.2 557.0L1189.4 557.9L1190.6 560.1L1191.8 561.7L1193.0 562.1L1194.2 563.5L1195.4 566.6L1196.6 565.2L1197.8 568.5L1199.0 569.6L1200.3 571.9L1201.5 574.6L1202.7 576.6L1203.9 579.4L1205.1 581.4L1206.3 583.9L1207.5 587.2L1208.7 589.5L1209.9 592.0L1211.1 595.7L1212.4 597.3L1213.6 600.7L1214.8 605.4L1216.0 607.0L1217.2 609.3L1218.4 612.0L1219.6 614.3L1220.8 619.1L1222.0 623.4L1223.2 629.2L1224.5 634.7L1225.7 640.2L1226.9 644.5L1228.1 652.3L1229.3 656.1L1230.5 659.7L1231.7 662.9L1232.9 667.0L1234.1 671.1L1235.3 674.4L1236.6 677.2L1237.8 681.5L1239.0 685.7L1240.2 693.5L1241.4 700.4L1242.6 707.1L1243.8 711.8L1245.0 717.3L1246.2 720.9L1247.4 727.2L1248.7 732.4L1249.9 737.8L1251.1 742.3L1252.3 749.0L1253.5 750.2L1254.7 756.0L1255.9 758.6L1257.1 763.5L1258.3 766.3L1259.5 770.5L1260.8 772.9L1262.0 775.9L1263.2 780.6L1264.4 784.7L1265.6 791.3L1266.8 796.9L1268.0 802.5L1269.2 808.6L1270.4 815.1L1271.6 817.2L1272.9 822.3L1274.1 825.9L1275.3 829.5L1276.5 834.1L1277.7 836.4L1278.9 840.4L1280.1 843.8L1281.3 845.5L1282.5 849.0L1283.7 852.4L1285.0 855.6L1286.2 857.1L1287.4 861.4L1288.6 863.2L1289.8 865.9L1291.0 867.6L1292.2 870.6L1293.4 871.3L1294.6 873.4L1295.8 874.5L1297.1 875.9L1298.3 876.1L1299.5 879.6L1300.7 881.5L1301.9 885.1L1303.1 886.0L1304.3 887.6L1305.5 889.4L1306.7 891.0L1307.9 893.6L1309.2 895.7L1310.4 897.9L1311.6 900.7L1312.8 903.1L1314.0 905.2L1315.2 905.8L1316.4 906.5L1317.6 908.4L1318.8 910.1L1320.0 913.8L1321.3 914.1L1322.5 914.2L1323.7 913.5L1324.9 915.1L1326.1 916.0L1327.3 917.9L1328.5 920.4L1329.7 920.0L1330.9 919.9L1332.1 922.8L1333.4 923.2L1334.6 926.7L1335.8 928.4L1337.0 929.1L1338.2 928.6L1339.4 930.0L1340.6 931.3L1341.8 929.8L1343.0 930.5L1344.2 931.8L1345.5 933.1L1346.7 934.0L1347.9 935.1L1349.1 935.2L1350.3 934.5L1351.5 934.8L1352.7 935.5L1353.9 935.6L1355.1 937.8L1356.3 938.6L1357.6 939.1L1358.8 938.8L1360.0 937.3L1361.2 936.9L1362.4 938.3L1363.6 938.8L1364.8 940.3L1366.0 941.3L1367.2 942.1L1368.4 944.0L1369.7 943.9L1370.9 944.2L1372.1 944.3L1373.3 944.2L1374.5 944.7L1375.7 944.4L1376.9 944.9L1378.1 947.3L1379.3 947.6L1380.5 948.0L1381.8 949.6L1383.0 947.9L1384.2 949.6L1385.4 949.6L1386.6 950.6L1387.8 949.1L1389.0 949.4L1390.2 946.9L1391.4 946.8L1392.6 948.4L1393.9 947.3L1395.1 949.8L1396.3 949.0L1397.5 947.6L1398.7 950.5L1399.9 948.5L1401.1 951.9L1402.3 949.7L1403.5 950.8L1404.7 951.8L1406.0 951.0L1407.2 948.6L1408.4 948.8L1409.6 948.4L1410.8 949.1L1412.0 948.4L1413.2 950.0L1414.4 950.5L1415.6 950.8L1416.8 950.0L1418.1 949.6L1419.3 949.8L1420.5 951.3L1421.7 949.2L1422.9 949.7L1424.1 947.6L1425.3 950.2L1426.5 948.9L1427.7 947.0L1428.9 949.3L1430.2 950.9L1431.4 951.7L1432.6 952.1L1433.8 953.3L1435.0 952.3L1436.2 952.5L1437.4 951.8L1438.6 951.1L1439.8 948.7L1441.0 949.1L1442.3 947.2L1443.5 946.6L1444.7 948.3L1445.9 950.3L1447.1 951.5L1448.3 953.3L1449.5 952.9L1450.7 952.9L1451.9 953.8L1453.1 953.9L1454.4 951.6L1455.6 950.7L1456.8 951.4L1458.0 951.9L1459.2 951.1L1460.4 951.8L1461.6 950.6L1462.8 951.7L1464.0 950.1L1465.2 950.2L1466.5 950.4L1467.7 949.9L1468.9 949.0L1470.1 947.3L1471.3 948.1L1472.5 949.5L1473.7 951.1L1474.9 949.8L1476.1 949.5L1477.3 950.6L1478.6 949.8L1479.8 950.9L1481.0 949.8L1482.2 950.0L1483.4 949.2L1484.6 950.4L1485.8 951.5L1487.0 950.7L1488.2 950.0L1489.4 951.5L1490.7 950.6L1491.9 951.0L1493.1 950.7L1494.3 952.2L1495.5 951.3L1496.7 952.0L1497.9 953.1L1499.1 953.7L1500.3 952.7L1501.5 954.7L1502.8 952.8L1504.0 953.0L1505.2 951.5L1506.4 950.9L1507.6 949.9L1508.8 949.2L1510.0 949.5L1511.2 948.9L1512.4 949.3L1513.6 949.0L1514.9 948.1L1516.1 949.6L1517.3 950.8L1518.5 950.5L1519.7 950.6L1520.9 950.3L1522.1 950.7L1523.3 949.1L1524.5 950.6L1525.7 949.8L1527.0 949.8L1528.2 950.3L1529.4 948.8L1530.6 948.2L1531.8 949.8L1533.0 952.2L1534.2 951.4L1535.4 952.6L1536.6 949.6L1537.8 949.8L1539.1 949.8L1540.3 950.9L1541.5 948.6L1542.7 950.1L1543.9 949.1L1545.1 949.4L1546.3 948.2L1547.5 948.4L1548.7 947.8L1549.9 947.9L1551.2 948.3L1552.4 948.7L1553.6 947.9L1554.8 948.7L1556.0 949.5L1557.2 952.1L1558.4 950.2L1559.6 950.6L1560.8 952.0L1562.0 953.4L1563.3 954.3L1564.5 953.9L1565.7 953.4L1566.9 952.0L1568.1 950.8L1569.3 950.2L1570.5 951.4L1571.7 950.4L1572.9 951.2L1574.1 951.2L1575.4 950.2L1576.6 950.5L1577.8 950.8L1579.0 952.3L1580.2 952.6L1581.4 952.3L1582.6 952.7L1583.8 952.9L1585.0 951.2L1586.2 950.9L1587.5 951.0L1588.7 951.4L1589.9 952.7L1591.1 952.9L1592.3 952.5L1593.5 953.6L1594.7 952.8L1595.9 953.3L1597.1 953.8L1598.3 953.8L1599.6 951.6L1600.8 952.8L1602.0 953.4L1603.2 951.6L1604.4 952.7L1605.6 951.9L1606.8 951.5L1608.0 952.3L1609.2 951.8L1610.4 950.0L1611.7 951.1L1612.9 952.7L1614.1 952.8L1615.3 953.6L1616.5 954.3L1617.7 954.0L1618.9 954.2L1620.1 952.3L1621.3 951.6L1622.5 952.6L1623.8 953.0L1625.0 952.9L1626.2 953.3L1627.4 952.6L1628.6 952.2L1629.8 952.7L1631.0 952.7L1632.2 950.7L1633.4 951.2L1634.6 951.5L1635.9 950.7L1637.1 953.3L1638.3 952.9L1639.5 951.6L1640.7 951.5L1641.9 951.5L1643.1 952.2L1644.3 951.6L1645.5 950.5L1646.7 950.8L1648.0 951.2L1649.2 950.8L1650.4 949.1L1651.6 949.2L1652.8 949.0L1654.0 948.2L1655.2 950.1L1656.4 949.2L1657.6 949.8L1658.8 950.7L1660.1 952.7L1661.3 953.3L1662.5 953.1L1663.7 952.9L1664.9 950.8L1666.1 952.9L1667.3 954.0L1668.5 952.2L1669.7 952.6L1670.9 953.7L1672.2 954.8L1673.4 954.5L1674.6 954.7L1675.8 956.5L1677.0 953.4L1678.2 950.4L1679.4 951.9L1680.6 951.8L1681.8 952.4L1683.0 952.8L1684.3 954.2L1685.5 951.9L1686.7 951.9L1687.9 951.9L1689.1 954.5L1690.3 953.3L1691.5 952.6L1692.7 952.5L1693.9 954.1L1695.1 953.4L1696.4 953.7L1697.6 952.4L1698.8 952.1L1700.0 953.0L1701.2 953.0L1702.4 954.5" stroke="#ff4444" stroke-width="5.2"/>
<path d="M255.2 1194.0L256.5 1191.2L257.7 1189.5L258.9 1187.3L260.1 1189.7L261.3 1191.5L262.5 1190.5L263.7 1191.4L264.9 1192.4L266.1 1190.9L267.3 1195.0L268.6 1191.2L269.8 1191.8L271.0 1193.0L272.2 1188.4L273.4 1187.3L274.6 1185.7L275.8 1186.5L277.0 1184.7L278.2 1187.6L279.4 1191.5L280.7 1190.9L281.9 1190.8L283.1 1191.4L284.3 1191.7L285.5 1192.0L286.7 1193.4L287.9 1191.9L289.1 1194.9L290.3 1193.6L291.5 1194.8L292.8 1193.5L294.0 1192.3L295.2 1193.3L296.4 1192.6L297.6 1195.0L298.8 1194.1L300.0 1194.7L301.2 1192.0L302.4 1194.2L303.6 1191.7L304.9 1193.2L306.1 1192.7L307.3 1190.7L308.5 1192.4L309.7 1192.1L310.9 1193.8L312.1 1195.1L313.3 1193.8L314.5 1193.2L315.7 1190.1L317.0 1191.4L318.2 1192.2L319.4 1193.9L320.6 1193.0L321.8 1194.9L323.0 1195.1L324.2 1193.0L325.4 1193.4L326.6 1195.0L327.8 1193.2L329.1 1192.8L330.3 1194.4L331.5 1193.2L332.7 1192.4L333.9 1192.7L335.1 1192.1L336.3 1191.7L337.5 1191.3L338.7 1191.9L339.9 1192.9L341.2 1191.6L342.4 1192.9L343.6 1193.9L344.8 1193.8L346.0 1196.0L347.2 1197.1L348.4 1195.6L349.6 1197.1L350.8 1194.6L352.0 1195.1L353.3 1193.8L354.5 1191.2L355.7 1189.0L356.9 1190.6L358.1 1189.8L359.3 1190.3L360.5 1191.7L361.7 1193.3L362.9 1191.3L364.1 1190.3L365.4 1188.0L366.6 1189.1L367.8 1188.3L369.0 1190.3L370.2 1188.7L371.4 1189.0L372.6 1189.3L373.8 1189.7L375.0 1191.6L376.2 1191.4L377.5 1190.3L378.7 1190.3L379.9 1190.5L381.1 1191.7L382.3 1191.1L383.5 1192.8L384.7 1190.2L385.9 1189.2L387.1 1185.9L388.3 1186.3L389.6 1183.1L390.8 1182.7L392.0 1185.2L393.2 1185.0L394.4 1185.9L395.6 1188.2L396.8 1186.3L398.0 1185.9L399.2 1183.0L400.4 1183.5L401.7 1183.9L402.9 1183.4L404.1 1185.6L405.3 1183.2L406.5 1182.8L407.7 1182.1L408.9 1181.7L410.1 1179.2L411.3 1178.6L412.5 1179.5L413.8 1180.9L415.0 1179.1L416.2 1178.1L417.4 1179.3L418.6 1180.1L419.8 1178.5L421.0 1178.5L422.2 1175.7L423.4 1177.7L424.6 1178.3L425.9 1179.3L427.1 1178.9L428.3 1178.8L429.5 1176.5L430.7 1178.7L431.9 1177.2L433.1 1179.1L434.3 1181.1L435.5 1180.3L436.7 1176.3L438.0 1177.0L439.2 1173.9L440.4 1171.7L441.6 1171.4L442.8 1170.5L444.0 1171.5L445.2 1168.5L446.4 1169.6L447.6 1170.0L448.8 1168.1L450.1 1170.9L451.3 1171.4L452.5 1168.9L453.7 1169.8L454.9 1168.5L456.1 1167.9L457.3 1165.6L458.5 1166.2L459.7 1163.6L460.9 1166.3L462.2 1165.6L463.4 1168.3L464.6 1164.6L465.8 1166.6L467.0 1165.3L468.2 1165.9L469.4 1165.5L470.6 1163.3L471.8 1162.0L473.0 1160.7L474.3 1161.4L475.5 1161.2L476.7 1160.3L477.9 1159.1L479.1 1158.5L480.3 1159.7L481.5 1158.9L482.7 1159.2L483.9 1162.4L485.1 1161.1L486.4 1161.3L487.6 1159.7L488.8 1160.2L490.0 1159.3L491.2 1156.4L492.4 1157.3L493.6 1158.3L494.8 1161.7L496.0 1161.8L497.2 1159.0L498.5 1159.7L499.7 1155.6L500.9 1153.2L502.1 1152.0L503.3 1153.9L504.5 1154.2L505.7 1153.1L506.9 1154.3L508.1 1156.0L509.3 1155.7L510.6 1157.3L511.8 1158.3L513.0 1156.8L514.2 1155.0L515.4 1155.1L516.6 1154.2L517.8 1155.0L519.0 1151.6L520.2 1150.0L521.4 1151.4L522.7 1150.8L523.9 1149.4L525.1 1150.0L526.3 1149.6L527.5 1150.4L528.7 1148.3L529.9 1148.4L531.1 1149.1L532.3 1148.9L533.5 1151.2L534.8 1151.0L536.0 1150.6L537.2 1152.1L538.4 1150.3L539.6 1149.7L540.8 1148.5L542.0 1147.0L543.2 1147.2L544.4 1147.6L545.6 1146.4L546.9 1146.4L548.1 1146.5L549.3 1144.6L550.5 1142.1L551.7 1144.6L552.9 1140.4L554.1 1142.1L555.3 1142.9L556.5 1144.4L557.7 1142.9L559.0 1144.2L560.2 1144.1L561.4 1145.1L562.6 1143.3L563.8 1141.9L565.0 1140.1L566.2 1139.6L567.4 1136.6L568.6 1135.7L569.8 1133.1L571.1 1134.7L572.3 1133.0L573.5 1136.0L574.7 1135.7L575.9 1134.3L577.1 1132.8L578.3 1132.0L579.5 1130.4L580.7 1128.8L581.9 1129.5L583.2 1130.8L584.4 1131.7L585.6 1132.0L586.8 1131.6L588.0 1131.9L589.2 1131.3L590.4 1130.5L591.6 1133.1L592.8 1132.5L594.0 1130.5L595.3 1131.2L596.5 1128.8L597.7 1127.5L598.9 1126.1L600.1 1126.5L601.3 1122.8L602.5 1121.2L603.7 1120.3L604.9 1120.2L606.1 1122.1L607.4 1122.9L608.6 1124.2L609.8 1120.7L611.0 1122.4L612.2 1120.7L613.4 1117.3L614.6 1118.9L615.8 1118.5L617.0 1117.2L618.2 1115.8L619.5 1115.2L620.7 1112.1L621.9 1113.5L623.1 1112.4L624.3 1110.3L625.5 1110.5L626.7 1108.5L627.9 1110.5L629.1 1106.1L630.3 1106.3L631.6 1105.3L632.8 1107.5L634.0 1108.2L635.2 1107.5L636.4 1105.4L637.6 1104.8L638.8 1102.0L640.0 1101.6L641.2 1099.8L642.4 1098.2L643.7 1100.3L644.9 1099.3L646.1 1100.8L647.3 1098.8L648.5 1098.9L649.7 1099.1L650.9 1097.6L652.1 1099.0L653.3 1100.3L654.5 1098.4L655.8 1097.9L657.0 1096.6L658.2 1093.5L659.4 1091.5L660.6 1090.7L661.8 1089.3L663.0 1090.1L664.2 1090.3L665.4 1089.2L666.6 1088.0L667.9 1089.5L669.1 1086.4L670.3 1082.0L671.5 1080.7L672.7 1079.4L673.9 1078.7L675.1 1076.9L676.3 1074.8L677.5 1073.2L678.7 1072.2L680.0 1072.1L681.2 1071.5L682.4 1069.6L683.6 1069.4L684.8 1070.0L686.0 1069.0L687.2 1063.9L688.4 1063.9L689.6 1063.1L690.8 1062.6L692.1 1062.7L693.3 1062.4L694.5 1061.9L695.7 1058.7L696.9 1058.2L698.1 1056.8L699.3 1054.8L700.5 1053.3L701.7 1051.9L702.9 1051.4L704.2 1053.2L705.4 1051.1L706.6 1051.4L707.8 1052.1L709.0 1049.9L710.2 1047.2L711.4 1046.6L712.6 1045.5L713.8 1044.7L715.0 1043.2L716.3 1043.2L717.5 1040.8L718.7 1038.4L719.9 1036.0L721.1 1037.2L722.3 1038.2L723.5 1040.9L724.7 1038.9L725.9 1039.2L727.1 1039.9L728.4 1036.5L729.6 1037.5L730.8 1037.2L732.0 1036.5L733.2 1034.5L734.4 1034.5L735.6 1032.0L736.8 1034.1L738.0 1031.7L739.2 1031.6L740.5 1030.7L741.7 1030.4L742.9 1029.6L744.1 1028.5L745.3 1025.7L746.5 1024.2L747.7 1021.9L748.9 1021.7L750.1 1021.7L751.3 1020.7L752.6 1018.9L753.8 1017.9L755.0 1017.3L756.2 1014.7L757.4 1011.1L758.6 1009.6L759.8 1008.5L761.0 1010.9L762.2 1006.7L763.4 1008.5L764.7 1006.1L765.9 1007.6L767.1 1004.3L768.3 1003.0L769.5 1001.0L770.7 1000.7L771.9 996.5L773.1 997.8L774.3 997.9L775.5 995.1L776.8 996.0L778.0 995.9L779.2 992.3L780.4 991.8L781.6 990.9L782.8 990.0L784.0 987.4L785.2 985.9L786.4 983.1L787.6 982.6L788.9 981.0L790.1 978.4L791.3 977.8L792.5 975.5L793.7 974.0L794.9 975.3L796.1 971.3L797.3 971.3L798.5 966.8L799.7 965.3L801.0 962.7L802.2 962.4L803.4 963.5L804.6 960.6L805.8 957.2L807.0 959.5L808.2 955.6L809.4 954.1L810.6 952.2L811.8 948.0L813.1 949.4L814.3 946.4L815.5 941.8L816.7 940.0L817.9 938.2L819.1 937.7L820.3 938.4L821.5 937.6L822.7 939.1L823.9 939.4L825.2 942.6L826.4 939.5L827.6 941.9L828.8 939.8L830.0 936.7L831.2 933.5L832.4 934.1L833.6 932.8L834.8 930.7L836.0 929.9L837.3 929.2L838.5 929.0L839.7 923.2L840.9 920.7L842.1 918.0L843.3 911.9L844.5 910.5L845.7 909.6L846.9 906.3L848.1 905.5L849.4 903.0L850.6 904.2L851.8 901.6L853.0 901.2L854.2 900.4L855.4 897.8L856.6 897.8L857.8 896.3L859.0 894.7L860.2 893.8L861.5 891.2L862.7 888.3L863.9 891.0L865.1 890.7L866.3 889.1L867.5 888.1L868.7 889.1L869.9 886.0L871.1 885.0L872.3 884.2L873.6 886.7L874.8 882.8L876.0 879.8L877.2 881.0L878.4 878.8L879.6 876.9L880.8 877.7L882.0 875.4L883.2 874.6L884.4 871.1L885.7 870.8L886.9 869.1L888.1 866.7L889.3 865.9L890.5 865.4L891.7 862.4L892.9 858.5L894.1 858.6L895.3 857.9L896.5 858.8L897.8 857.8L899.0 859.7L900.2 858.3L901.4 857.5L902.6 855.5L903.8 853.6L905.0 851.4L906.2 850.5L907.4 848.6L908.6 848.5L909.9 850.3L911.1 851.4L912.3 851.3L913.5 852.0L914.7 851.4L915.9 852.4L917.1 849.0L918.3 852.3L919.5 845.8L920.7 842.6L922.0 840.1L923.2 834.6L924.4 832.1L925.6 830.1L926.8 828.2L928.0 827.2L929.2 827.3L930.4 827.1L931.6 826.5L932.8 824.7L934.1 822.7L935.3 822.8L936.5 818.3L937.7 819.8L938.9 820.4L940.1 820.0L941.3 819.0L942.5 818.6L943.7 817.9L944.9 816.8L946.2 815.1L947.4 818.1L948.6 819.8L949.8 823.2L951.0 822.5L952.2 823.2L953.4 824.1L954.6 821.6L955.8 821.2L957.0 820.4L958.3 818.7L959.5 818.9L960.7 817.6L961.9 818.7L963.1 819.8L964.3 820.6L965.5 817.8L966.7 816.6L967.9 816.5L969.1 818.5L970.4 817.5L971.6 821.0L972.8 822.6L974.0 825.1L975.2 825.8L976.4 828.0L977.6 830.5L978.8 829.7L980.0 830.0L981.2 827.8L982.5 830.0L983.7 827.2L984.9 826.5L986.1 825.2L987.3 824.5L988.5 826.0L989.7 827.1L990.9 832.3L992.1 832.5L993.3 833.0L994.6 833.1L995.8 832.8L997.0 832.4L998.2 833.5L999.4 836.5L1000.6 833.4L1001.8 836.3L1003.0 835.9L1004.2 836.7L1005.4 833.7L1006.7 834.5L1007.9 835.4L1009.1 831.8L1010.3 832.4L1011.5 830.2L1012.7 830.7L1013.9 829.5L1015.1 831.2L1016.3 831.7L1017.5 835.8L1018.8 835.1L1020.0 838.1L1021.2 837.6L1022.4 838.9L1023.6 842.1L1024.8 842.2L1026.0 843.2L1027.2 844.6L1028.4 845.5L1029.6 844.1L1030.9 846.5L1032.1 844.9L1033.3 844.0L1034.5 842.9L1035.7 843.0L1036.9 844.5L1038.1 847.3L1039.3 849.4L1040.5 851.7L1041.7 854.7L1043.0 854.3L1044.2 858.7L1045.4 859.4L1046.6 859.6L1047.8 861.9L1049.0 860.8L1050.2 863.2L1051.4 859.9L1052.6 858.0L1053.8 859.3L1055.1 854.9L1056.3 855.1L1057.5 852.4L1058.7 851.4L1059.9 850.4L1061.1 848.7L1062.3 849.2L1063.5 847.2L1064.7 844.1L1065.9 846.3L1067.2 843.2L1068.4 842.3L1069.6 842.1L1070.8 839.8L1072.0 841.6L1073.2 838.4L1074.4 836.5L1075.6 837.0L1076.8 833.4L1078.0 833.4L1079.3 832.1L1080.5 832.2L1081.7 831.2L1082.9 826.6L1084.1 827.4L1085.3 825.6L1086.5 827.0L1087.7 826.1L1088.9 822.1L1090.1 819.5L1091.4 818.1L1092.6 816.9L1093.8 813.2L1095.0 812.0L1096.2 810.7L1097.4 807.1L1098.6 805.2L1099.8 802.3L1101.0 797.9L1102.2 795.9L1103.5 793.8L1104.7 789.7L1105.9 788.1L1107.1 786.2L1108.3 784.8L1109.5 783.0L1110.7 781.0L1111.9 781.4L1113.1 780.8L1114.3 778.3L1115.6 776.7L1116.8 773.1L1118.0 771.9L1119.2 769.8L1120.4 766.4L1121.6 763.6L1122.8 759.9L1124.0 758.1L1125.2 758.3L1126.4 759.5L1127.7 756.7L1128.9 754.6L1130.1 754.8L1131.3 755.1L1132.5 756.4L1133.7 755.3L1134.9 751.3L1136.1 748.6L1137.3 747.3L1138.5 746.2L1139.8 744.4L1141.0 745.6L1142.2 742.6L1143.4 741.3L1144.6 738.5L1145.8 737.0L1147.0 734.0L1148.2 732.0L1149.4 730.8L1150.6 727.9L1151.9 727.7L1153.1 723.6L1154.3 723.4L1155.5 721.0L1156.7 718.9L1157.9 718.7L1159.1 719.2L1160.3 716.1L1161.5 715.4L1162.7 710.5L1164.0 710.7L1165.2 707.0L1166.4 706.0L1167.6 704.8L1168.8 701.9L1170.0 703.1L1171.2 701.0L1172.4 701.3L1173.6 699.4L1174.8 698.9L1176.1 697.9L1177.3 695.5L1178.5 697.1L1179.7 696.3L1180.9 697.3L1182.1 691.5L1183.3 693.1L1184.5 692.9L1185.7 692.8L1186.9 690.8L1188.2 688.1L1189.4 689.4L1190.6 688.5L1191.8 689.6L1193.0 689.9L1194.2 689.6L1195.4 690.8L1196.6 687.3L1197.8 688.1L1199.0 692.2L1200.3 693.5L1201.5 695.6L1202.7 696.4L1203.9 699.4L1205.1 700.8L1206.3 703.5L1207.5 707.2L1208.7 711.4L1209.9 714.2L1211.1 715.8L1212.4 719.7L1213.6 720.5L1214.8 721.8L1216.0 722.9L1217.2 726.5L1218.4 727.7L1219.6 731.6L1220.8 734.5L1222.0 738.1L1223.2 742.9L1224.5 743.4L1225.7 752.9L1226.9 757.0L1228.1 761.4L1229.3 766.2L1230.5 772.1L1231.7 775.9L1232.9 783.6L1234.1 788.7L1235.3 795.7L1236.6 802.7L1237.8 810.6L1239.0 817.3L1240.2 820.0L1241.4 827.7L1242.6 832.7L1243.8 837.6L1245.0 845.8L1246.2 849.2L1247.4 855.0L1248.7 863.4L1249.9 869.3L1251.1 875.6L1252.3 882.2L1253.5 888.3L1254.7 897.7L1255.9 903.9L1257.1 912.4L1258.3 919.6L1259.5 926.5L1260.8 936.5L1262.0 944.5L1263.2 951.7L1264.4 956.7L1265.6 962.0L1266.8 969.1L1268.0 973.9L1269.2 980.3L1270.4 988.5L1271.6 995.2L1272.9 1000.4L1274.1 1004.3L1275.3 1010.2L1276.5 1011.4L1277.7 1016.6L1278.9 1021.8L1280.1 1025.8L1281.3 1032.7L1282.5 1040.4L1283.7 1044.6L1285.0 1048.0L1286.2 1054.9L1287.4 1057.0L1288.6 1060.1L1289.8 1064.6L1291.0 1064.0L1292.2 1068.2L1293.4 1071.6L1294.6 1077.8L1295.8 1079.4L1297.1 1086.2L1298.3 1087.1L1299.5 1089.4L1300.7 1092.5L1301.9 1094.2L1303.1 1096.8L1304.3 1100.7L1305.5 1104.8L1306.7 1107.0L1307.9 1111.3L1309.2 1113.5L1310.4 1116.7L1311.6 1119.0L1312.8 1122.5L1314.0 1124.7L1315.2 1126.2L1316.4 1126.8L1317.6 1129.2L1318.8 1133.6L1320.0 1135.8L1321.3 1137.1L1322.5 1137.5L1323.7 1140.6L1324.9 1141.8L1326.1 1144.0L1327.3 1143.6L1328.5 1141.9L1329.7 1140.2L1330.9 1142.3L1332.1 1141.9L1333.4 1145.0L1334.6 1147.8L1335.8 1150.9L1337.0 1153.3L1338.2 1152.6L1339.4 1152.5L1340.6 1153.4L1341.8 1149.7L1343.0 1154.0L1344.2 1155.1L1345.5 1157.8L1346.7 1158.3L1347.9 1158.1L1349.1 1157.2L1350.3 1158.7L1351.5 1159.5L1352.7 1161.1L1353.9 1162.2L1355.1 1162.2L1356.3 1164.7L1357.6 1165.2L1358.8 1167.8L1360.0 1168.8L1361.2 1170.2L1362.4 1168.8L1363.6 1170.2L1364.8 1167.8L1366.0 1167.0L1367.2 1168.5L1368.4 1166.6L1369.7 1168.5L1370.9 1169.0L1372.1 1169.6L1373.3 1171.5L1374.5 1173.7L1375.7 1177.2L1376.9 1177.7L1378.1 1176.9L1379.3 1179.2L1380.5 1180.8L1381.8 1181.7L1383.0 1182.7L1384.2 1183.9L1385.4 1184.4L1386.6 1187.8L1387.8 1185.8L1389.0 1185.5L1390.2 1184.9L1391.4 1190.4L1392.6 1189.1L1393.9 1187.7L1395.1 1191.2L1396.3 1192.0L1397.5 1190.9L1398.7 1194.7L1399.9 1194.8L1401.1 1195.7L1402.3 1196.2L1403.5 1194.2L1404.7 1197.0L1406.0 1194.9L1407.2 1194.2L1408.4 1195.4L1409.6 1192.4L1410.8 1191.8L1412.0 1192.4L1413.2 1190.7L1414.4 1190.6L1415.6 1192.8L1416.8 1192.8L1418.1 1192.5L1419.3 1194.4L1420.5 1192.3L1421.7 1193.8L1422.9 1190.7L1424.1 1190.9L1425.3 1188.3L1426.5 1190.6L1427.7 1191.4L1428.9 1192.8L1430.2 1194.5L1431.4 1194.6L1432.6 1195.2L1433.8 1192.5L1435.0 1192.1L1436.2 1190.3L1437.4 1189.7L1438.6 1190.2L1439.8 1189.9L1441.0 1191.3L1442.3 1190.9L1443.5 1191.6L1444.7 1190.4L1445.9 1192.9L1447.1 1196.3L1448.3 1197.0L1449.5 1196.0L1450.7 1195.8L1451.9 1195.6L1453.1 1196.5L1454.4 1197.6L1455.6 1197.2L1456.8 1197.9L1458.0 1197.7L1459.2 1197.8L1460.4 1198.8L1461.6 1195.6L1462.8 1196.0L1464.0 1193.3L1465.2 1192.6L1466.5 1191.3L1467.7 1191.9L1468.9 1193.6L1470.1 1193.6L1471.3 1193.0L1472.5 1192.7L1473.7 1194.8L1474.9 1193.5L1476.1 1194.1L1477.3 1195.3L1478.6 1196.2L1479.8 1194.3L1481.0 1194.8L1482.2 1196.6L1483.4 1193.8L1484.6 1192.9L1485.8 1192.4L1487.0 1193.9L1488.2 1193.8L1489.4 1192.6L1490.7 1191.2L1491.9 1187.7L1493.1 1187.3L1494.3 1188.1L1495.5 1188.5L1496.7 1189.8L1497.9 1191.1L1499.1 1195.1L1500.3 1196.1L1501.5 1195.1L1502.8 1197.8L1504.0 1197.6L1505.2 1196.9L1506.4 1196.2L1507.6 1196.1L1508.8 1197.0L1510.0 1194.3L1511.2 1195.2L1512.4 1196.2L1513.6 1195.5L1514.9 1197.8L1516.1 1196.9L1517.3 1197.4L1518.5 1196.3L1519.7 1196.1L1520.9 1192.5L1522.1 1191.6L1523.3 1192.6L1524.5 1194.3L1525.7 1192.8L1527.0 1193.6L1528.2 1194.3L1529.4 1194.5L1530.6 1193.0L1531.8 1191.4L1533.0 1189.6L1534.2 1188.6L1535.4 1189.1L1536.6 1189.0L1537.8 1190.7L1539.1 1193.0L1540.3 1193.7L1541.5 1194.1L1542.7 1192.6L1543.9 1195.8L1545.1 1193.5L1546.3 1193.2L1547.5 1192.2L1548.7 1193.2L1549.9 1193.3L1551.2 1191.3L1552.4 1190.3L1553.6 1189.8L1554.8 1193.0L1556.0 1192.9L1557.2 1193.6L1558.4 1195.4L1559.6 1196.8L1560.8 1195.6L1562.0 1194.6L1563.3 1192.5L1564.5 1190.1L1565.7 1189.6L1566.9 1190.6L1568.1 1190.6L1569.3 1191.8L1570.5 1193.2L1571.7 1195.0L1572.9 1194.3L1574.1 1193.2L1575.4 1194.2L1576.6 1193.8L1577.8 1194.4L1579.0 1193.4L1580.2 1192.1L1581.4 1193.4L1582.6 1192.9L1583.8 1193.4L1585.0 1189.6L1586.2 1188.8L1587.5 1188.5L1588.7 1190.4L1589.9 1190.6L1591.1 1190.4L1592.3 1191.9L1593.5 1194.1L1594.7 1192.1L1595.9 1192.7L1597.1 1192.6L1598.3 1191.9L1599.6 1192.3L1600.8 1193.2L1602.0 1193.6L1603.2 1193.0L1604.4 1196.1L1605.6 1195.4L1606.8 1192.4L1608.0 1191.4L1609.2 1189.0L1610.4 1190.5L1611.7 1187.6L1612.9 1187.7L1614.1 1187.5L1615.3 1188.7L1616.5 1188.8L1617.7 1190.3L1618.9 1193.3L1620.1 1194.9L1621.3 1193.6L1622.5 1193.6L1623.8 1191.5L1625.0 1193.5L1626.2 1190.0L1627.4 1189.7L1628.6 1187.3L1629.8 1185.1L1631.0 1184.3L1632.2 1182.9L1633.4 1185.3L1634.6 1186.1L1635.9 1188.0L1637.1 1188.2L1638.3 1191.8L1639.5 1190.2L1640.7 1191.9L1641.9 1191.4L1643.1 1194.9L1644.3 1193.5L1645.5 1193.4L1646.7 1193.0L1648.0 1191.5L1649.2 1190.9L1650.4 1193.1L1651.6 1191.6L1652.8 1192.2L1654.0 1194.3L1655.2 1192.1L1656.4 1194.7L1657.6 1193.1L1658.8 1191.9L1660.1 1193.9L1661.3 1194.5L1662.5 1193.8L1663.7 1191.6L1664.9 1190.4L1666.1 1192.0L1667.3 1193.5L1668.5 1194.2L1669.7 1192.8L1670.9 1193.0L1672.2 1193.0L1673.4 1192.8L1674.6 1190.9L1675.8 1189.8L1677.0 1188.8L1678.2 1186.5L1679.4 1189.1L1680.6 1191.5L1681.8 1189.9L1683.0 1192.9L1684.3 1189.4L1685.5 1190.6L1686.7 1191.3L1687.9 1192.3L1689.1 1191.0L1690.3 1192.8L1691.5 1194.7L1692.7 1192.6L1693.9 1192.0L1695.1 1187.0L1696.4 1188.4L1697.6 1187.2L1698.8 1186.3L1700.0 1184.1L1701.2 1184.5L1702.4 1184.5" stroke="#555555" stroke-width="5.2"/>
<path d="M253.0 1189.5H1705.0" stroke="#00ff00" stroke-width="3.6"/>
<path d="M253.0 1188.8L255.0 1188.8L257.0 1188.9L259.0 1188.9L261.0 1188.9L263.0 1188.9L265.0 1188.9L267.0 1188.9L269.0 1189.0L271.0 1189.0L273.0 1189.0L275.0 1189.0L277.0 1189.0L279.0 1189.0L281.0 1189.0L283.0 1189.0L285.0 1189.0L287.0 1189.0L289.0 1189.0L291.0 1189.0L293.0 1189.0L295.0 1189.0L297.0 1189.0L299.0 1189.0L301.0 1189.0L303.0 1189.0L305.0 1189.0L307.0 1189.0L309.0 1189.0L311.0 1189.0L313.0 1189.0L315.0 1189.0L317.0 1189.0L319.0 1189.0L321.0 1189.0L323.0 1189.0L325.0 1189.0L327.0 1189.0L329.0 1189.0L331.0 1189.0L333.0 1189.0L335.0 1189.0L337.0 1189.0L339.0 1189.0L341.0 1189.0L343.0 1189.0L345.0 1189.0L347.0 1189.0L349.0 1189.0L351.0 1189.0L353.0 1189.0L355.0 1189.0L357.0 1189.0L359.0 1189.0L361.0 1189.0L363.0 1189.0L365.0 1189.0L367.0 1189.0L369.0 1189.0L371.0 1189.0L373.0 1188.9L375.0 1188.9L377.0 1188.8L379.0 1188.8L381.0 1188.7L383.0 1188.6L385.0 1188.6L387.0 1188.5L389.0 1188.4L391.0 1188.3L393.0 1188.3L395.0 1188.2L397.0 1188.1L399.0 1188.0L401.0 1187.9L403.0 1187.8L405.0 1187.7L407.0 1187.6L409.0 1187.4L411.0 1187.3L413.0 1187.2L415.0 1187.1L417.0 1186.9L419.0 1186.8L421.0 1186.6L423.0 1186.5L425.0 1186.3L427.0 1186.2L429.0 1186.0L431.0 1185.8L433.0 1185.7L435.0 1185.5L437.0 1185.3L439.0 1185.1L441.0 1184.9L443.0 1184.7L445.0 1184.5L447.0 1184.3L449.0 1184.1L451.0 1183.8L453.0 1183.6L455.0 1183.4L457.0 1183.1L459.0 1182.9L461.0 1182.6L463.0 1182.3L465.0 1182.1L467.0 1181.8L469.0 1181.5L471.0 1181.2L473.0 1180.9L475.0 1180.6L477.0 1180.3L479.0 1180.0L481.0 1179.7L483.0 1179.3L485.0 1179.0L487.0 1178.6L489.0 1178.3L491.0 1177.9L493.0 1177.5L495.0 1177.2L497.0 1176.8L499.0 1176.4L501.0 1176.0L503.0 1175.6L505.0 1175.1L507.0 1174.7L509.0 1174.3L511.0 1173.8L513.0 1173.4L515.0 1172.9L517.0 1172.4L519.0 1171.9L521.0 1171.4L523.0 1170.9L525.0 1170.4L527.0 1169.9L529.0 1169.4L531.0 1168.8L533.0 1168.3L535.0 1167.7L537.0 1167.1L539.0 1166.6L541.0 1166.0L543.0 1165.4L545.0 1164.8L547.0 1164.1L549.0 1163.5L551.0 1162.9L553.0 1162.2L555.0 1161.5L557.0 1160.9L559.0 1160.2L561.0 1159.5L563.0 1158.8L565.0 1158.0L567.0 1157.3L569.0 1156.6L571.0 1155.8L573.0 1155.0L575.0 1154.2L577.0 1153.4L579.0 1152.6L581.0 1151.8L583.0 1150.9L585.0 1150.1L587.0 1149.2L589.0 1148.3L591.0 1147.4L593.0 1146.5L595.0 1145.5L597.0 1144.6L599.0 1143.6L601.0 1142.6L603.0 1141.6L605.0 1140.6L607.0 1139.6L609.0 1138.5L611.0 1137.4L613.0 1136.3L615.0 1135.2L617.0 1134.1L619.0 1132.9L621.0 1131.7L623.0 1130.5L625.0 1129.3L627.0 1128.1L629.0 1126.8L631.0 1125.5L633.0 1124.2L635.0 1122.9L637.0 1121.5L639.0 1120.2L641.0 1118.8L643.0 1117.3L645.0 1115.9L647.0 1114.4L649.0 1112.9L651.0 1111.4L653.0 1109.9L655.0 1108.3L657.0 1106.7L659.0 1105.1L661.0 1103.5L663.0 1101.8L665.0 1100.1L667.0 1098.4L669.0 1096.7L671.0 1094.9L673.0 1093.2L675.0 1091.4L677.0 1089.6L679.0 1087.7L681.0 1085.9L683.0 1084.0L685.0 1082.1L687.0 1080.2L689.0 1078.3L691.0 1076.4L693.0 1074.4L695.0 1072.4L697.0 1070.4L699.0 1068.4L701.0 1066.4L703.0 1064.3L705.0 1062.3L707.0 1060.2L709.0 1058.1L711.0 1056.0L713.0 1053.9L715.0 1051.7L717.0 1049.6L719.0 1047.4L721.0 1045.3L723.0 1043.1L725.0 1040.9L727.0 1038.7L729.0 1036.4L731.0 1034.2L733.0 1032.0L735.0 1029.7L737.0 1027.4L739.0 1025.2L741.0 1022.9L743.0 1020.6L745.0 1018.3L747.0 1016.0L749.0 1013.7L751.0 1011.3L753.0 1009.0L755.0 1006.7L757.0 1004.3L759.0 1002.0L761.0 999.6L763.0 997.2L765.0 994.9L767.0 992.5L769.0 990.1L771.0 987.7L773.0 985.3L775.0 982.9L777.0 980.5L779.0 978.1L781.0 975.7L783.0 973.3L785.0 970.9L787.0 968.5L789.0 966.1L791.0 963.7L793.0 961.3L795.0 958.8L797.0 956.4L799.0 954.0L801.0 951.6L803.0 949.2L805.0 946.8L807.0 944.4L809.0 942.0L811.0 939.6L813.0 937.2L815.0 934.8L817.0 932.4L819.0 930.1L821.0 927.7L823.0 925.4L825.0 923.0L827.0 920.7L829.0 918.4L831.0 916.0L833.0 913.8L835.0 911.5L837.0 909.2L839.0 906.9L841.0 904.7L843.0 902.5L845.0 900.3L847.0 898.1L849.0 895.9L851.0 893.8L853.0 891.6L855.0 889.5L857.0 887.4L859.0 885.4L861.0 883.3L863.0 881.3L865.0 879.3L867.0 877.3L869.0 875.4L871.0 873.5L873.0 871.6L875.0 869.7L877.0 867.9L879.0 866.1L881.0 864.3L883.0 862.5L885.0 860.8L887.0 859.1L889.0 857.5L891.0 855.9L893.0 854.3L895.0 852.7L897.0 851.2L899.0 849.7L901.0 848.3L903.0 846.9L905.0 845.5L907.0 844.2L909.0 842.9L911.0 841.7L913.0 840.5L915.0 839.3L917.0 838.2L919.0 837.2L921.0 836.1L923.0 835.1L925.0 834.2L927.0 833.3L929.0 832.5L931.0 831.7L933.0 830.9L935.0 830.2L937.0 829.6L939.0 829.0L941.0 828.4L943.0 827.9L945.0 827.5L947.0 827.1L949.0 826.8L951.0 826.5L953.0 826.3L955.0 826.1L957.0 826.0L959.0 825.9L961.0 825.9L963.0 825.9L965.0 826.0L967.0 826.1L969.0 826.3L971.0 826.5L973.0 826.8L975.0 827.1L977.0 827.5L979.0 827.9L981.0 828.4L983.0 828.9L985.0 829.5L987.0 830.1L989.0 830.8L991.0 831.6L993.0 832.3L995.0 833.2L997.0 834.0L999.0 835.0L1001.0 835.9L1003.0 837.0L1005.0 838.0L1007.0 839.2L1009.0 840.3L1011.0 841.5L1013.0 842.8L1015.0 844.1L1017.0 845.4L1019.0 846.8L1021.0 848.2L1023.0 849.7L1025.0 851.2L1027.0 852.7L1029.0 854.3L1031.0 855.9L1033.0 857.5L1035.0 859.2L1037.0 860.9L1039.0 862.7L1041.0 864.5L1043.0 866.3L1045.0 868.1L1047.0 870.0L1049.0 871.9L1051.0 873.8L1053.0 875.8L1055.0 877.7L1057.0 879.7L1059.0 881.8L1061.0 883.8L1063.0 885.9L1065.0 888.0L1067.0 890.1L1069.0 892.3L1071.0 894.4L1073.0 896.6L1075.0 898.8L1077.0 901.0L1079.0 903.2L1081.0 905.5L1083.0 907.7L1085.0 910.0L1087.0 912.3L1089.0 914.6L1091.0 916.9L1093.0 919.2L1095.0 921.5L1097.0 923.8L1099.0 926.2L1101.0 928.5L1103.0 930.9L1105.0 933.2L1107.0 935.6L1109.0 937.9L1111.0 940.3L1113.0 942.7L1115.0 945.0L1117.0 947.4L1119.0 949.8L1121.0 952.1L1123.0 954.5L1125.0 956.9L1127.0 959.2L1129.0 961.6L1131.0 964.0L1133.0 966.3L1135.0 968.7L1137.0 971.0L1139.0 973.4L1141.0 975.7L1143.0 978.1L1145.0 980.4L1147.0 982.8L1149.0 985.1L1151.0 987.4L1153.0 989.8L1155.0 992.1L1157.0 994.4L1159.0 996.7L1161.0 999.0L1163.0 1001.4L1165.0 1003.7L1167.0 1005.9L1169.0 1008.2L1171.0 1010.5L1173.0 1012.8L1175.0 1015.1L1177.0 1017.3L1179.0 1019.6L1181.0 1021.8L1183.0 1024.1L1185.0 1026.3L1187.0 1028.5L1189.0 1030.7L1191.0 1032.9L1193.0 1035.1L1195.0 1037.3L1197.0 1039.5L1199.0 1041.7L1201.0 1043.8L1203.0 1046.0L1205.0 1048.1L1207.0 1050.3L1209.0 1052.4L1211.0 1054.5L1213.0 1056.6L1215.0 1058.7L1217.0 1060.7L1219.0 1062.8L1221.0 1064.8L1223.0 1066.9L1225.0 1068.9L1227.0 1070.9L1229.0 1072.9L1231.0 1074.9L1233.0 1076.8L1235.0 1078.8L1237.0 1080.7L1239.0 1082.7L1241.0 1084.6L1243.0 1086.5L1245.0 1088.4L1247.0 1090.2L1249.0 1092.1L1251.0 1093.9L1253.0 1095.7L1255.0 1097.5L1257.0 1099.3L1259.0 1101.1L1261.0 1102.8L1263.0 1104.6L1265.0 1106.3L1267.0 1108.0L1269.0 1109.6L1271.0 1111.3L1273.0 1112.9L1275.0 1114.6L1277.0 1116.2L1279.0 1117.8L1281.0 1119.3L1283.0 1120.9L1285.0 1122.4L1287.0 1123.9L1289.0 1125.4L1291.0 1126.8L1293.0 1128.3L1295.0 1129.7L1297.0 1131.1L1299.0 1132.5L1301.0 1133.8L1303.0 1135.2L1305.0 1136.5L1307.0 1137.8L1309.0 1139.0L1311.0 1140.3L1313.0 1141.5L1315.0 1142.7L1317.0 1143.9L1319.0 1145.1L1321.0 1146.2L1323.0 1147.3L1325.0 1148.4L1327.0 1149.5L1329.0 1150.5L1331.0 1151.6L1333.0 1152.6L1335.0 1153.6L1337.0 1154.6L1339.0 1155.5L1341.0 1156.5L1343.0 1157.4L1345.0 1158.3L1347.0 1159.2L1349.0 1160.1L1351.0 1160.9L1353.0 1161.7L1355.0 1162.5L1357.0 1163.3L1359.0 1164.1L1361.0 1164.9L1363.0 1165.6L1365.0 1166.4L1367.0 1167.1L1369.0 1167.8L1371.0 1168.4L1373.0 1169.1L1375.0 1169.7L1377.0 1170.4L1379.0 1171.0L1381.0 1171.6L1383.0 1172.2L1385.0 1172.8L1387.0 1173.3L1389.0 1173.9L1391.0 1174.4L1393.0 1174.9L1395.0 1175.4L1397.0 1175.9L1399.0 1176.4L1401.0 1176.8L1403.0 1177.3L1405.0 1177.7L1407.0 1178.1L1409.0 1178.5L1411.0 1178.9L1413.0 1179.3L1415.0 1179.7L1417.0 1180.1L1419.0 1180.4L1421.0 1180.8L1423.0 1181.1L1425.0 1181.4L1427.0 1181.7L1429.0 1182.0L1431.0 1182.3L1433.0 1182.6L1435.0 1182.8L1437.0 1183.1L1439.0 1183.3L1441.0 1183.6L1443.0 1183.8L1445.0 1184.0L1447.0 1184.2L1449.0 1184.4L1451.0 1184.6L1453.0 1184.8L1455.0 1185.0L1457.0 1185.2L1459.0 1185.3L1461.0 1185.5L1463.0 1185.6L1465.0 1185.8L1467.0 1185.9L1469.0 1186.0L1471.0 1186.2L1473.0 1186.3L1475.0 1186.4L1477.0 1186.5L1479.0 1186.6L1481.0 1186.7L1483.0 1186.8L1485.0 1186.8L1487.0 1186.9L1489.0 1187.0L1491.0 1187.1L1493.0 1187.1L1495.0 1187.2L1497.0 1187.2L1499.0 1187.3L1501.0 1187.3L1503.0 1187.4L1505.0 1187.4L1507.0 1187.5L1509.0 1187.5L1511.0 1187.5L1513.0 1187.6L1515.0 1187.6L1517.0 1187.6L1519.0 1187.6L1521.0 1187.7L1523.0 1187.7L1525.0 1187.7L1527.0 1187.7L1529.0 1187.7L1531.0 1187.8L1533.0 1187.8L1535.0 1187.8L1537.0 1187.8L1539.0 1187.8L1541.0 1187.8L1543.0 1187.9L1545.0 1187.9L1547.0 1187.9L1549.0 1187.9L1551.0 1187.9L1553.0 1188.0L1555.0 1188.0L1557.0 1188.0L1559.0 1188.0L1561.0 1188.1L1563.0 1188.1L1565.0 1188.1L1567.0 1188.1L1569.0 1188.2L1571.0 1188.2L1573.0 1188.2L1575.0 1188.2L1577.0 1188.3L1579.0 1188.3L1581.0 1188.3L1583.0 1188.4L1585.0 1188.4L1587.0 1188.4L1589.0 1188.5L1591.0 1188.5L1593.0 1188.5L1595.0 1188.5L1597.0 1188.6L1599.0 1188.6L1601.0 1188.6L1603.0 1188.7L1605.0 1188.7L1607.0 1188.7L1609.0 1188.8L1611.0 1188.8L1613.0 1188.8L1615.0 1188.8L1617.0 1188.9L1619.0 1188.9L1621.0 1188.9L1623.0 1189.0L1625.0 1189.0L1627.0 1189.0L1629.0 1189.0L1631.0 1189.0L1633.0 1189.0L1635.0 1189.0L1637.0 1189.0L1639.0 1189.0L1641.0 1189.0L1643.0 1189.0L1645.0 1189.0L1647.0 1189.0L1649.0 1189.0L1651.0 1189.0L1653.0 1189.0L1655.0 1189.0L1657.0 1189.0L1659.0 1189.0L1661.0 1189.0L1663.0 1189.0L1665.0 1189.0L1667.0 1189.0L1669.0 1189.0L1671.0 1189.0L1673.0 1189.0L1675.0 1189.0L1677.0 1189.0L1679.0 1189.0L1681.0 1189.0L1683.0 1189.0L1685.0 1189.0L1687.0 1189.0L1689.0 1189.0L1691.0 1189.0L1693.0 1189.0L1695.0 1189.0L1697.0 1189.0L1699.0 1189.0L1701.0 1189.0L1703.0 1189.0L1705.0 1189.0" stroke="#00ff00" stroke-width="2.4"/>
<path d="M253.0 1188.9L255.0 1188.9L257.0 1188.9L259.0 1188.9L261.0 1188.9L263.0 1188.9L265.0 1188.9L267.0 1188.9L269.0 1188.9L271.0 1188.9L273.0 1188.9L275.0 1188.9L277.0 1188.9L279.0 1188.9L281.0 1188.9L283.0 1188.9L285.0 1188.9L287.0 1188.9L289.0 1188.9L291.0 1188.9L293.0 1188.9L295.0 1188.9L297.0 1188.9L299.0 1188.9L301.0 1188.9L303.0 1188.9L305.0 1188.9L307.0 1188.9L309.0 1188.9L311.0 1188.9L313.0 1188.9L315.0 1188.9L317.0 1188.9L319.0 1188.9L321.0 1188.9L323.0 1188.9L325.0 1188.9L327.0 1188.9L329.0 1188.9L331.0 1188.9L333.0 1188.9L335.0 1188.9L337.0 1188.9L339.0 1188.9L341.0 1188.9L343.0 1188.9L345.0 1188.9L347.0 1188.9L349.0 1188.9L351.0 1188.9L353.0 1188.9L355.0 1188.9L357.0 1188.9L359.0 1188.9L361.0 1188.9L363.0 1188.9L365.0 1188.9L367.0 1188.9L369.0 1188.9L371.0 1188.9L373.0 1188.9L375.0 1188.9L377.0 1188.9L379.0 1188.9L381.0 1188.9L383.0 1188.9L385.0 1188.9L387.0 1188.9L389.0 1188.9L391.0 1189.0L393.0 1189.0L395.0 1189.0L397.0 1189.0L399.0 1189.0L401.0 1189.0L403.0 1189.0L405.0 1189.0L407.0 1189.0L409.0 1189.0L411.0 1189.0L413.0 1189.0L415.0 1189.0L417.0 1189.0L419.0 1189.0L421.0 1189.0L423.0 1189.0L425.0 1189.0L427.0 1189.0L429.0 1189.0L431.0 1189.0L433.0 1189.0L435.0 1189.0L437.0 1189.0L439.0 1189.0L441.0 1189.0L443.0 1189.0L445.0 1189.0L447.0 1189.0L449.0 1189.0L451.0 1189.0L453.0 1189.0L455.0 1189.0L457.0 1189.0L459.0 1189.0L461.0 1189.0L463.0 1189.0L465.0 1189.0L467.0 1189.0L469.0 1189.0L471.0 1189.0L473.0 1189.0L475.0 1189.0L477.0 1189.0L479.0 1189.0L481.0 1189.0L483.0 1189.0L485.0 1189.0L487.0 1189.0L489.0 1189.0L491.0 1189.0L493.0 1189.0L495.0 1189.0L497.0 1189.0L499.0 1189.0L501.0 1189.0L503.0 1189.0L505.0 1189.0L507.0 1189.0L509.0 1189.0L511.0 1189.0L513.0 1189.0L515.0 1189.0L517.0 1189.0L519.0 1189.0L521.0 1189.0L523.0 1189.0L525.0 1189.0L527.0 1189.0L529.0 1189.0L531.0 1189.0L533.0 1189.0L535.0 1189.0L537.0 1189.0L539.0 1189.0L541.0 1189.0L543.0 1189.0L545.0 1189.0L547.0 1189.0L549.0 1189.0L551.0 1189.0L553.0 1189.0L555.0 1189.0L557.0 1189.0L559.0 1189.0L561.0 1189.0L563.0 1189.0L565.0 1189.0L567.0 1189.0L569.0 1189.0L571.0 1189.0L573.0 1189.0L575.0 1189.0L577.0 1189.0L579.0 1189.0L581.0 1189.0L583.0 1189.0L585.0 1189.0L587.0 1189.0L589.0 1189.0L591.0 1189.0L593.0 1189.0L595.0 1189.0L597.0 1189.0L599.0 1189.0L601.0 1189.0L603.0 1189.0L605.0 1189.0L607.0 1189.0L609.0 1189.0L611.0 1189.0L613.0 1189.0L615.0 1189.0L617.0 1189.0L619.0 1189.0L621.0 1189.0L623.0 1189.0L625.0 1189.0L627.0 1189.0L629.0 1189.0L631.0 1189.0L633.0 1189.0L635.0 1189.0L637.0 1189.0L639.0 1189.0L641.0 1189.0L643.0 1189.0L645.0 1189.0L647.0 1189.0L649.0 1189.0L651.0 1189.0L653.0 1189.0L655.0 1189.0L657.0 1189.0L659.0 1189.0L661.0 1189.0L663.0 1189.0L665.0 1189.0L667.0 1189.0L669.0 1189.0L671.0 1189.0L673.0 1188.9L675.0 1188.9L677.0 1188.9L679.0 1188.9L681.0 1188.9L683.0 1188.9L685.0 1188.9L687.0 1188.9L689.0 1188.9L691.0 1188.9L693.0 1188.9L695.0 1188.9L697.0 1188.9L699.0 1188.8L701.0 1188.8L703.0 1188.8L705.0 1188.8L707.0 1188.8L709.0 1188.8L711.0 1188.8L713.0 1188.8L715.0 1188.8L717.0 1188.8L719.0 1188.8L721.0 1188.8L723.0 1188.8L725.0 1188.8L727.0 1188.7L729.0 1188.7L731.0 1188.7L733.0 1188.7L735.0 1188.7L737.0 1188.7L739.0 1188.7L741.0 1188.7L743.0 1188.7L745.0 1188.7L747.0 1188.7L749.0 1188.7L751.0 1188.7L753.0 1188.7L755.0 1188.7L757.0 1188.7L759.0 1188.7L761.0 1188.7L763.0 1188.7L765.0 1188.7L767.0 1188.7L769.0 1188.7L771.0 1188.7L773.0 1188.7L775.0 1188.7L777.0 1188.7L779.0 1188.7L781.0 1188.7L783.0 1188.7L785.0 1188.7L787.0 1188.7L789.0 1188.7L791.0 1188.7L793.0 1188.7L795.0 1188.7L797.0 1188.7L799.0 1188.7L801.0 1188.7L803.0 1188.7L805.0 1188.7L807.0 1188.7L809.0 1188.7L811.0 1188.7L813.0 1188.7L815.0 1188.8L817.0 1188.8L819.0 1188.8L821.0 1188.8L823.0 1188.8L825.0 1188.8L827.0 1188.8L829.0 1188.8L831.0 1188.8L833.0 1188.9L835.0 1188.9L837.0 1188.9L839.0 1188.9L841.0 1188.9L843.0 1188.9L845.0 1189.0L847.0 1189.0L849.0 1189.0L851.0 1189.0L853.0 1189.0L855.0 1189.0L857.0 1189.0L859.0 1189.0L861.0 1189.0L863.0 1189.0L865.0 1189.0L867.0 1189.0L869.0 1189.0L871.0 1189.0L873.0 1189.0L875.0 1189.0L877.0 1189.0L879.0 1189.0L881.0 1189.0L883.0 1189.0L885.0 1189.0L887.0 1189.0L889.0 1189.0L891.0 1189.0L893.0 1189.0L895.0 1189.0L897.0 1189.0L899.0 1189.0L901.0 1189.0L903.0 1189.0L905.0 1189.0L907.0 1189.0L909.0 1189.0L911.0 1189.0L913.0 1189.0L915.0 1189.0L917.0 1189.0L919.0 1189.0L921.0 1189.0L923.0 1189.0L925.0 1189.0L927.0 1189.0L929.0 1189.0L931.0 1189.0L933.0 1189.0L935.0 1189.0L937.0 1189.0L939.0 1189.0L941.0 1189.0L943.0 1189.0L945.0 1189.0L947.0 1189.0L949.0 1189.0L951.0 1189.0L953.0 1189.0L955.0 1189.0L957.0 1189.0L959.0 1189.0L961.0 1189.0L963.0 1189.0L965.0 1189.0L967.0 1189.0L969.0 1189.0L971.0 1189.0L973.0 1189.0L975.0 1189.0L977.0 1189.0L979.0 1188.9L981.0 1188.8L983.0 1188.7L985.0 1188.6L987.0 1188.5L989.0 1188.4L991.0 1188.2L993.0 1188.1L995.0 1188.0L997.0 1187.8L999.0 1187.7L1001.0 1187.5L1003.0 1187.4L1005.0 1187.2L1007.0 1187.1L1009.0 1186.9L1011.0 1186.7L1013.0 1186.5L1015.0 1186.2L1017.0 1186.0L1019.0 1185.7L1021.0 1185.3L1023.0 1184.9L1025.0 1184.5L1027.0 1184.0L1029.0 1183.5L1031.0 1182.9L1033.0 1182.2L1035.0 1181.4L1037.0 1180.6L1039.0 1179.7L1041.0 1178.7L1043.0 1177.7L1045.0 1176.5L1047.0 1175.2L1049.0 1173.8L1051.0 1172.4L1053.0 1170.8L1055.0 1169.1L1057.0 1167.2L1059.0 1165.3L1061.0 1163.2L1063.0 1160.9L1065.0 1158.6L1067.0 1156.1L1069.0 1153.4L1071.0 1150.6L1073.0 1147.6L1075.0 1144.4L1077.0 1141.1L1079.0 1137.6L1081.0 1134.0L1083.0 1130.1L1085.0 1126.1L1087.0 1121.9L1089.0 1117.4L1091.0 1112.8L1093.0 1108.0L1095.0 1102.9L1097.0 1097.7L1099.0 1092.2L1101.0 1086.5L1103.0 1080.6L1105.0 1074.4L1107.0 1068.0L1109.0 1061.4L1111.0 1054.6L1113.0 1047.8L1115.0 1040.9L1117.0 1034.0L1119.0 1027.1L1121.0 1020.3L1123.0 1013.7L1125.0 1007.1L1127.0 1000.6L1129.0 994.1L1131.0 987.5L1133.0 981.0L1135.0 974.3L1137.0 967.6L1139.0 960.8L1141.0 953.9L1143.0 946.9L1145.0 939.9L1147.0 932.9L1149.0 925.9L1151.0 919.1L1153.0 912.4L1155.0 906.1L1157.0 900.1L1159.0 894.4L1161.0 889.1L1163.0 884.1L1165.0 879.4L1167.0 875.0L1169.0 870.8L1171.0 866.9L1173.0 863.2L1175.0 859.8L1177.0 856.6L1179.0 853.8L1181.0 851.3L1183.0 849.2L1185.0 847.4L1187.0 846.1L1189.0 845.1L1191.0 844.5L1193.0 844.4L1195.0 844.7L1197.0 845.5L1199.0 846.6L1201.0 848.2L1203.0 850.1L1205.0 852.4L1207.0 855.0L1209.0 857.9L1211.0 861.2L1213.0 864.7L1215.0 868.6L1217.0 872.7L1219.0 877.0L1221.0 881.6L1223.0 886.4L1225.0 891.4L1227.0 896.7L1229.0 902.1L1231.0 907.8L1233.0 913.7L1235.0 919.8L1237.0 926.1L1239.0 932.6L1241.0 939.3L1243.0 946.2L1245.0 953.3L1247.0 960.6L1249.0 968.1L1251.0 975.8L1253.0 983.8L1255.0 991.9L1257.0 1000.1L1259.0 1008.2L1261.0 1016.2L1263.0 1024.0L1265.0 1031.5L1267.0 1038.6L1269.0 1045.4L1271.0 1051.7L1273.0 1057.8L1275.0 1063.6L1277.0 1069.2L1279.0 1074.7L1281.0 1080.0L1283.0 1085.3L1285.0 1090.6L1287.0 1095.8L1289.0 1101.0L1291.0 1106.1L1293.0 1111.1L1295.0 1116.1L1297.0 1120.9L1299.0 1125.7L1301.0 1130.3L1303.0 1134.7L1305.0 1138.9L1307.0 1143.0L1309.0 1146.9L1311.0 1150.5L1313.0 1153.9L1315.0 1157.1L1317.0 1160.0L1319.0 1162.6L1321.0 1165.0L1323.0 1167.1L1325.0 1169.1L1327.0 1170.8L1329.0 1172.4L1331.0 1173.8L1333.0 1175.0L1335.0 1176.2L1337.0 1177.2L1339.0 1178.1L1341.0 1179.0L1343.0 1179.8L1345.0 1180.5L1347.0 1181.3L1349.0 1181.9L1351.0 1182.6L1353.0 1183.2L1355.0 1183.8L1357.0 1184.3L1359.0 1184.8L1361.0 1185.3L1363.0 1185.8L1365.0 1186.2L1367.0 1186.6L1369.0 1187.0L1371.0 1187.3L1373.0 1187.6L1375.0 1187.9L1377.0 1188.2L1379.0 1188.4L1381.0 1188.7L1383.0 1188.9L1385.0 1189.0L1387.0 1189.0L1389.0 1189.0L1391.0 1189.0L1393.0 1189.0L1395.0 1189.0L1397.0 1189.0L1399.0 1189.0L1401.0 1189.0L1403.0 1189.0L1405.0 1189.0L1407.0 1189.0L1409.0 1189.0L1411.0 1189.0L1413.0 1189.0L1415.0 1189.0L1417.0 1189.0L1419.0 1189.0L1421.0 1189.0L1423.0 1189.0L1425.0 1189.0L1427.0 1189.0L1429.0 1189.0L1431.0 1189.0L1433.0 1189.0L1435.0 1189.0L1437.0 1189.0L1439.0 1189.0L1441.0 1189.0L1443.0 1189.0L1445.0 1188.9L1447.0 1188.9L1449.0 1188.8L1451.0 1188.8L1453.0 1188.8L1455.0 1188.7L1457.0 1188.7L1459.0 1188.7L1461.0 1188.6L1463.0 1188.6L1465.0 1188.6L1467.0 1188.6L1469.0 1188.6L1471.0 1188.6L1473.0 1188.6L1475.0 1188.6L1477.0 1188.6L1479.0 1188.5L1481.0 1188.6L1483.0 1188.6L1485.0 1188.6L1487.0 1188.6L1489.0 1188.6L1491.0 1188.6L1493.0 1188.6L1495.0 1188.6L1497.0 1188.6L1499.0 1188.6L1501.0 1188.7L1503.0 1188.7L1505.0 1188.7L1507.0 1188.7L1509.0 1188.7L1511.0 1188.8L1513.0 1188.8L1515.0 1188.8L1517.0 1188.8L1519.0 1188.9L1521.0 1188.9L1523.0 1188.9L1525.0 1188.9L1527.0 1188.9L1529.0 1189.0L1531.0 1189.0L1533.0 1189.0L1535.0 1189.0L1537.0 1189.0L1539.0 1189.0L1541.0 1189.0L1543.0 1189.0L1545.0 1189.0L1547.0 1189.0L1549.0 1189.0L1551.0 1189.0L1553.0 1189.0L1555.0 1189.0L1557.0 1189.0L1559.0 1189.0L1561.0 1189.0L1563.0 1189.0L1565.0 1189.0L1567.0 1189.0L1569.0 1189.0L1571.0 1189.0L1573.0 1189.0L1575.0 1189.0L1577.0 1189.0L1579.0 1189.0L1581.0 1189.0L1583.0 1189.0L1585.0 1189.0L1587.0 1189.0L1589.0 1189.0L1591.0 1189.0L1593.0 1189.0L1595.0 1189.0L1597.0 1189.0L1599.0 1189.0L1601.0 1189.0L1603.0 1189.0L1605.0 1189.0L1607.0 1189.0L1609.0 1189.0L1611.0 1189.0L1613.0 1189.0L1615.0 1189.0L1617.0 1189.0L1619.0 1189.0L1621.0 1189.0L1623.0 1189.0L1625.0 1189.0L1627.0 1189.0L1629.0 1189.0L1631.0 1189.0L1633.0 1189.0L1635.0 1189.0L1637.0 1189.0L1639.0 1189.0L1641.0 1189.0L1643.0 1189.0L1645.0 1189.0L1647.0 1189.0L1649.0 1189.0L1651.0 1189.0L1653.0 1188.9L1655.0 1188.9L1657.0 1188.9L1659.0 1188.9L1661.0 1188.9L1663.0 1188.9L1665.0 1188.9L1667.0 1188.9L1669.0 1188.9L1671.0 1188.9L1673.0 1188.9L1675.0 1188.9L1677.0 1188.9L1679.0 1188.9L1681.0 1188.9L1683.0 1188.9L1685.0 1188.8L1687.0 1188.8L1689.0 1188.8L1691.0 1188.8L1693.0 1188.8L1695.0 1188.8L1697.0 1188.9L1699.0 1188.9L1701.0 1188.9L1703.0 1188.9L1705.0 1188.9" stroke="#00ff00" stroke-width="2.4"/>
<path d="M253.0 1188.8L255.0 1188.8L257.0 1188.8L259.0 1188.8L261.0 1188.8L263.0 1188.8L265.0 1188.9L267.0 1188.9L269.0 1188.9L271.0 1188.9L273.0 1188.9L275.0 1188.9L277.0 1188.9L279.0 1188.9L281.0 1188.9L283.0 1188.9L285.0 1188.9L287.0 1188.9L289.0 1188.9L291.0 1188.9L293.0 1188.9L295.0 1188.9L297.0 1188.9L299.0 1188.9L301.0 1188.9L303.0 1188.9L305.0 1188.9L307.0 1188.9L309.0 1188.9L311.0 1188.9L313.0 1188.9L315.0 1188.9L317.0 1188.9L319.0 1188.9L321.0 1188.9L323.0 1188.9L325.0 1188.9L327.0 1188.9L329.0 1188.9L331.0 1188.9L333.0 1188.9L335.0 1188.9L337.0 1188.9L339.0 1188.9L341.0 1188.9L343.0 1188.9L345.0 1188.9L347.0 1188.9L349.0 1188.9L351.0 1188.9L353.0 1188.9L355.0 1188.9L357.0 1188.9L359.0 1188.9L361.0 1188.9L363.0 1188.9L365.0 1188.9L367.0 1188.9L369.0 1188.9L371.0 1188.9L373.0 1188.9L375.0 1188.8L377.0 1188.8L379.0 1188.7L381.0 1188.6L383.0 1188.6L385.0 1188.5L387.0 1188.4L389.0 1188.4L391.0 1188.3L393.0 1188.2L395.0 1188.1L397.0 1188.0L399.0 1187.9L401.0 1187.8L403.0 1187.7L405.0 1187.6L407.0 1187.5L409.0 1187.4L411.0 1187.3L413.0 1187.2L415.0 1187.0L417.0 1186.9L419.0 1186.8L421.0 1186.6L423.0 1186.5L425.0 1186.3L427.0 1186.2L429.0 1186.0L431.0 1185.8L433.0 1185.7L435.0 1185.5L437.0 1185.3L439.0 1185.1L441.0 1184.9L443.0 1184.7L445.0 1184.5L447.0 1184.3L449.0 1184.1L451.0 1183.8L453.0 1183.6L455.0 1183.4L457.0 1183.1L459.0 1182.9L461.0 1182.6L463.0 1182.3L465.0 1182.1L467.0 1181.8L469.0 1181.5L471.0 1181.2L473.0 1180.9L475.0 1180.6L477.0 1180.3L479.0 1180.0L481.0 1179.7L483.0 1179.3L485.0 1179.0L487.0 1178.6L489.0 1178.3L491.0 1177.9L493.0 1177.5L495.0 1177.2L497.0 1176.8L499.0 1176.4L501.0 1176.0L503.0 1175.6L505.0 1175.1L507.0 1174.7L509.0 1174.3L511.0 1173.8L513.0 1173.4L515.0 1172.9L517.0 1172.4L519.0 1171.9L521.0 1171.4L523.0 1170.9L525.0 1170.4L527.0 1169.9L529.0 1169.4L531.0 1168.8L533.0 1168.3L535.0 1167.7L537.0 1167.1L539.0 1166.6L541.0 1166.0L543.0 1165.4L545.0 1164.8L547.0 1164.1L549.0 1163.5L551.0 1162.9L553.0 1162.2L555.0 1161.5L557.0 1160.9L559.0 1160.2L561.0 1159.5L563.0 1158.8L565.0 1158.0L567.0 1157.3L569.0 1156.6L571.0 1155.8L573.0 1155.0L575.0 1154.2L577.0 1153.4L579.0 1152.6L581.0 1151.8L583.0 1150.9L585.0 1150.1L587.0 1149.2L589.0 1148.3L591.0 1147.4L593.0 1146.5L595.0 1145.5L597.0 1144.6L599.0 1143.6L601.0 1142.6L603.0 1141.6L605.0 1140.6L607.0 1139.6L609.0 1138.5L611.0 1137.4L613.0 1136.3L615.0 1135.2L617.0 1134.1L619.0 1132.9L621.0 1131.7L623.0 1130.5L625.0 1129.3L627.0 1128.1L629.0 1126.8L631.0 1125.5L633.0 1124.2L635.0 1122.9L637.0 1121.5L639.0 1120.2L641.0 1118.8L643.0 1117.3L645.0 1115.9L647.0 1114.4L649.0 1112.9L651.0 1111.4L653.0 1109.9L655.0 1108.3L657.0 1106.7L659.0 1105.1L661.0 1103.4L663.0 1101.8L665.0 1100.1L667.0 1098.4L669.0 1096.6L671.0 1094.9L673.0 1093.1L675.0 1091.3L677.0 1089.5L679.0 1087.7L681.0 1085.8L683.0 1083.9L685.0 1082.0L687.0 1080.1L689.0 1078.2L691.0 1076.2L693.0 1074.3L695.0 1072.3L697.0 1070.3L699.0 1068.2L701.0 1066.2L703.0 1064.2L705.0 1062.1L707.0 1060.0L709.0 1057.9L711.0 1055.8L713.0 1053.7L715.0 1051.5L717.0 1049.4L719.0 1047.2L721.0 1045.0L723.0 1042.8L725.0 1040.6L727.0 1038.4L729.0 1036.2L731.0 1033.9L733.0 1031.7L735.0 1029.4L737.0 1027.2L739.0 1024.9L741.0 1022.6L743.0 1020.3L745.0 1018.0L747.0 1015.7L749.0 1013.4L751.0 1011.0L753.0 1008.7L755.0 1006.3L757.0 1004.0L759.0 1001.6L761.0 999.3L763.0 996.9L765.0 994.5L767.0 992.1L769.0 989.8L771.0 987.4L773.0 985.0L775.0 982.6L777.0 980.2L779.0 977.8L781.0 975.4L783.0 973.0L785.0 970.6L787.0 968.2L789.0 965.8L791.0 963.4L793.0 960.9L795.0 958.5L797.0 956.1L799.0 953.7L801.0 951.3L803.0 948.9L805.0 946.5L807.0 944.1L809.0 941.7L811.0 939.3L813.0 936.9L815.0 934.6L817.0 932.2L819.0 929.8L821.0 927.5L823.0 925.2L825.0 922.8L827.0 920.5L829.0 918.2L831.0 915.9L833.0 913.6L835.0 911.3L837.0 909.1L839.0 906.8L841.0 904.6L843.0 902.4L845.0 900.2L847.0 898.1L849.0 895.9L851.0 893.8L853.0 891.6L855.0 889.5L857.0 887.4L859.0 885.4L861.0 883.3L863.0 881.3L865.0 879.3L867.0 877.3L869.0 875.4L871.0 873.5L873.0 871.6L875.0 869.7L877.0 867.9L879.0 866.1L881.0 864.3L883.0 862.5L885.0 860.8L887.0 859.1L889.0 857.5L891.0 855.9L893.0 854.3L895.0 852.7L897.0 851.2L899.0 849.7L901.0 848.3L903.0 846.9L905.0 845.5L907.0 844.2L909.0 842.9L911.0 841.7L913.0 840.5L915.0 839.3L917.0 838.2L919.0 837.2L921.0 836.1L923.0 835.1L925.0 834.2L927.0 833.3L929.0 832.5L931.0 831.7L933.0 830.9L935.0 830.2L937.0 829.6L939.0 829.0L941.0 828.4L943.0 827.9L945.0 827.5L947.0 827.1L949.0 826.8L951.0 826.5L953.0 826.3L955.0 826.1L957.0 826.0L959.0 825.9L961.0 825.9L963.0 825.9L965.0 826.0L967.0 826.1L969.0 826.3L971.0 826.5L973.0 826.8L975.0 827.1L977.0 827.5L979.0 827.8L981.0 828.2L983.0 828.6L985.0 829.1L987.0 829.6L989.0 830.2L991.0 830.8L993.0 831.4L995.0 832.1L997.0 832.9L999.0 833.7L1001.0 834.5L1003.0 835.4L1005.0 836.3L1007.0 837.2L1009.0 838.2L1011.0 839.2L1013.0 840.2L1015.0 841.3L1017.0 842.4L1019.0 843.4L1021.0 844.5L1023.0 845.6L1025.0 846.7L1027.0 847.7L1029.0 848.7L1031.0 849.7L1033.0 850.7L1035.0 851.7L1037.0 852.6L1039.0 853.4L1041.0 854.2L1043.0 854.9L1045.0 855.6L1047.0 856.2L1049.0 856.7L1051.0 857.2L1053.0 857.5L1055.0 857.8L1057.0 858.0L1059.0 858.0L1061.0 858.0L1063.0 857.8L1065.0 857.6L1067.0 857.2L1069.0 856.6L1071.0 856.0L1073.0 855.2L1075.0 854.2L1077.0 853.1L1079.0 851.9L1081.0 850.4L1083.0 848.8L1085.0 847.1L1087.0 845.1L1089.0 843.0L1091.0 840.7L1093.0 838.2L1095.0 835.4L1097.0 832.5L1099.0 829.4L1101.0 826.0L1103.0 822.4L1105.0 818.6L1107.0 814.6L1109.0 810.3L1111.0 806.0L1113.0 801.5L1115.0 796.9L1117.0 792.4L1119.0 787.9L1121.0 783.5L1123.0 779.2L1125.0 775.0L1127.0 770.8L1129.0 766.7L1131.0 762.5L1133.0 758.3L1135.0 754.0L1137.0 749.7L1139.0 745.2L1141.0 740.6L1143.0 736.0L1145.0 731.4L1147.0 726.7L1149.0 722.0L1151.0 717.5L1153.0 713.2L1155.0 709.2L1157.0 705.5L1159.0 702.2L1161.0 699.2L1163.0 696.5L1165.0 694.1L1167.0 692.0L1169.0 690.1L1171.0 688.4L1173.0 687.0L1175.0 685.8L1177.0 685.0L1179.0 684.4L1181.0 684.2L1183.0 684.3L1185.0 684.7L1187.0 685.6L1189.0 686.8L1191.0 688.5L1193.0 690.6L1195.0 693.1L1197.0 696.0L1199.0 699.3L1201.0 703.0L1203.0 707.1L1205.0 711.5L1207.0 716.2L1209.0 721.3L1211.0 726.7L1213.0 732.3L1215.0 738.2L1217.0 744.4L1219.0 750.8L1221.0 757.4L1223.0 764.3L1225.0 771.3L1227.0 778.6L1229.0 786.0L1231.0 793.7L1233.0 801.6L1235.0 809.6L1237.0 817.9L1239.0 826.3L1241.0 834.9L1243.0 843.7L1245.0 852.6L1247.0 861.8L1249.0 871.1L1251.0 880.7L1253.0 890.5L1255.0 900.4L1257.0 910.4L1259.0 920.3L1261.0 930.0L1263.0 939.6L1265.0 948.8L1267.0 957.6L1269.0 966.0L1271.0 974.0L1273.0 981.8L1275.0 989.2L1277.0 996.4L1279.0 1003.5L1281.0 1010.4L1283.0 1017.2L1285.0 1024.0L1287.0 1030.7L1289.0 1037.4L1291.0 1043.9L1293.0 1050.4L1295.0 1056.8L1297.0 1063.1L1299.0 1069.2L1301.0 1075.1L1303.0 1080.9L1305.0 1086.4L1307.0 1091.8L1309.0 1096.9L1311.0 1101.8L1313.0 1106.4L1315.0 1110.8L1317.0 1114.9L1319.0 1118.7L1321.0 1122.2L1323.0 1125.4L1325.0 1128.5L1327.0 1131.3L1329.0 1133.9L1331.0 1136.4L1333.0 1138.6L1335.0 1140.8L1337.0 1142.8L1339.0 1144.7L1341.0 1146.5L1343.0 1148.2L1345.0 1149.8L1347.0 1151.4L1349.0 1153.0L1351.0 1154.5L1353.0 1155.9L1355.0 1157.3L1357.0 1158.7L1359.0 1160.0L1361.0 1161.2L1363.0 1162.4L1365.0 1163.6L1367.0 1164.7L1369.0 1165.7L1371.0 1166.7L1373.0 1167.7L1375.0 1168.7L1377.0 1169.6L1379.0 1170.4L1381.0 1171.3L1383.0 1172.0L1385.0 1172.8L1387.0 1173.3L1389.0 1173.9L1391.0 1174.4L1393.0 1174.9L1395.0 1175.4L1397.0 1175.9L1399.0 1176.4L1401.0 1176.8L1403.0 1177.3L1405.0 1177.7L1407.0 1178.1L1409.0 1178.5L1411.0 1178.9L1413.0 1179.3L1415.0 1179.7L1417.0 1180.1L1419.0 1180.4L1421.0 1180.8L1423.0 1181.1L1425.0 1181.4L1427.0 1181.7L1429.0 1182.0L1431.0 1182.3L1433.0 1182.6L1435.0 1182.8L1437.0 1183.1L1439.0 1183.3L1441.0 1183.6L1443.0 1183.8L1445.0 1183.9L1447.0 1184.1L1449.0 1184.3L1451.0 1184.4L1453.0 1184.6L1455.0 1184.7L1457.0 1184.9L1459.0 1185.0L1461.0 1185.1L1463.0 1185.2L1465.0 1185.4L1467.0 1185.5L1469.0 1185.6L1471.0 1185.7L1473.0 1185.8L1475.0 1185.9L1477.0 1186.0L1479.0 1186.1L1481.0 1186.2L1483.0 1186.3L1485.0 1186.4L1487.0 1186.5L1489.0 1186.6L1491.0 1186.6L1493.0 1186.7L1495.0 1186.8L1497.0 1186.9L1499.0 1186.9L1501.0 1187.0L1503.0 1187.1L1505.0 1187.1L1507.0 1187.2L1509.0 1187.2L1511.0 1187.3L1513.0 1187.3L1515.0 1187.4L1517.0 1187.4L1519.0 1187.5L1521.0 1187.5L1523.0 1187.6L1525.0 1187.6L1527.0 1187.7L1529.0 1187.7L1531.0 1187.7L1533.0 1187.8L1535.0 1187.8L1537.0 1187.8L1539.0 1187.8L1541.0 1187.8L1543.0 1187.9L1545.0 1187.9L1547.0 1187.9L1549.0 1187.9L1551.0 1187.9L1553.0 1188.0L1555.0 1188.0L1557.0 1188.0L1559.0 1188.0L1561.0 1188.1L1563.0 1188.1L1565.0 1188.1L1567.0 1188.1L1569.0 1188.2L1571.0 1188.2L1573.0 1188.2L1575.0 1188.2L1577.0 1188.3L1579.0 1188.3L1581.0 1188.3L1583.0 1188.4L1585.0 1188.4L1587.0 1188.4L1589.0 1188.5L1591.0 1188.5L1593.0 1188.5L1595.0 1188.5L1597.0 1188.6L1599.0 1188.6L1601.0 1188.6L1603.0 1188.7L1605.0 1188.7L1607.0 1188.7L1609.0 1188.8L1611.0 1188.8L1613.0 1188.8L1615.0 1188.8L1617.0 1188.9L1619.0 1188.9L1621.0 1188.9L1623.0 1189.0L1625.0 1189.0L1627.0 1189.0L1629.0 1189.0L1631.0 1189.0L1633.0 1189.0L1635.0 1189.0L1637.0 1189.0L1639.0 1189.0L1641.0 1189.0L1643.0 1189.0L1645.0 1189.0L1647.0 1189.0L1649.0 1189.0L1651.0 1189.0L1653.0 1188.9L1655.0 1188.9L1657.0 1188.9L1659.0 1188.9L1661.0 1188.9L1663.0 1188.9L1665.0 1188.9L1667.0 1188.9L1669.0 1188.9L1671.0 1188.9L1673.0 1188.9L1675.0 1188.9L1677.0 1188.9L1679.0 1188.9L1681.0 1188.9L1683.0 1188.9L1685.0 1188.8L1687.0 1188.8L1689.0 1188.8L1691.0 1188.8L1693.0 1188.8L1695.0 1188.8L1697.0 1188.9L1699.0 1188.9L1701.0 1188.9L1703.0 1188.9L1705.0 1188.9" stroke="#00ff00" stroke-width="2.4"/>
</g>
<line x1="952.8" y1="81.4" x2="952.8" y2="1208.3" stroke="#ff8c1a" stroke-width="5.2" stroke-dasharray="13.9 11.57"/>
<line x1="1189.8" y1="84.0" x2="1189.8" y2="1208.3" stroke="#ff8c1a" stroke-width="5.2" stroke-dasharray="13.9 11.60"/>
<path d="M253.0 1230.8999999999999V36.6H1705.0V1230.8999999999999" fill="none" stroke="#000" stroke-width="5.5" stroke-linejoin="round"/>
<path d="M253.0 1206.7H1705.0" fill="none" stroke="#000" stroke-width="4.7"/>
<path d="M313.5 1206.3V1217.7M374.0 1206.3V1217.7M434.5 1206.3V1217.7M495.0 1206.3V1230.7M555.5 1206.3V1217.7M616.0 1206.3V1217.7M676.5 1206.3V1217.7M737.0 1206.3V1230.7M797.5 1206.3V1217.7M858.0 1206.3V1217.7M918.5 1206.3V1217.7M979.0 1206.3V1230.7M1039.5 1206.3V1217.7M1100.0 1206.3V1217.7M1160.5 1206.3V1217.7M1221.0 1206.3V1230.7M1281.5 1206.3V1217.7M1342.0 1206.3V1217.7M1402.5 1206.3V1217.7M1463.0 1206.3V1230.7M1523.5 1206.3V1217.7M1584.0 1206.3V1217.7M1644.5 1206.3V1217.7" stroke="#000" stroke-width="4.9" fill="none"/>
<text class="b" x="253.0" y="1292.0" font-size="62.5" text-anchor="middle">800</text>
<text class="b" x="495.0" y="1292.0" font-size="62.5" text-anchor="middle">1000</text>
<text class="b" x="737.0" y="1292.0" font-size="62.5" text-anchor="middle">1200</text>
<text class="b" x="979.0" y="1292.0" font-size="62.5" text-anchor="middle">1400</text>
<text class="b" x="1221.0" y="1292.0" font-size="62.5" text-anchor="middle">1600</text>
<text class="b" x="1463.0" y="1292.0" font-size="62.5" text-anchor="middle">1800</text>
<text class="b" x="1705.0" y="1292.0" font-size="62.5" text-anchor="middle">2000</text>
<text class="b" x="688.6" y="1410.2" font-size="66">Raman shift (cm<tspan font-size="43" dy="-30.5" dx="2">-1</tspan><tspan dy="30.5" dx="5">)</tspan></text>
<text class="b" transform="translate(156.6 599) rotate(-90)" font-size="66.5" text-anchor="middle">Intensity (a.u)</text>
<line x1="272.6" y1="82.6" x2="414.2" y2="82.6" stroke="#555555" stroke-width="7.9"/>
<text x="424.8" y="105.2" font-size="64.5">0.66 Pa / floating</text>
<line x1="264.5" y1="162.8" x2="405.9" y2="162.8" stroke="#ff4444" stroke-width="7.9"/>
<text x="424.8" y="182.4" font-size="64.5">0.66 Pa / −100V</text>
<line x1="264.5" y1="237.8" x2="405.9" y2="237.8" stroke="#0072f0" stroke-width="7.9"/>
<text x="424.8" y="259.5" font-size="64.5">2.66 Pa / floating</text>
<line x1="264.5" y1="320.5" x2="405.9" y2="320.5" stroke="#00b86b" stroke-width="7.9"/>
<text x="424.8" y="337.6" font-size="64.5">2.66 Pa / −100V</text>
<text x="960.0" y="105.0" font-size="64.5">D-band</text>
<text x="1199.6" y="105.0" font-size="64.5">G-band</text>
<text class="b" x="1638.5" y="136.2" font-size="94" text-anchor="middle">(a)</text>
</g>
<g id="panel-b">
<rect x="258.6" y="1449.8" width="1451.6999999999998" height="1173.6000000000001" fill="none" stroke="#000" stroke-width="4.7"/>
<text class="b" x="175.6" y="1466.2" font-size="61.5" text-anchor="middle">1.5</text>
<text class="b" x="175.6" y="1596.8" font-size="61.5" text-anchor="middle">1.4</text>
<text class="b" x="175.6" y="1727.4" font-size="61.5" text-anchor="middle">1.3</text>
<text class="b" x="175.6" y="1858.0" font-size="61.5" text-anchor="middle">1.2</text>
<text class="b" x="175.6" y="1988.6" font-size="61.5" text-anchor="middle">1.1</text>
<text class="b" x="175.6" y="2119.2" font-size="61.5" text-anchor="middle">1.0</text>
<text class="b" x="175.6" y="2249.8" font-size="61.5" text-anchor="middle">0.9</text>
<text class="b" x="175.6" y="2380.4" font-size="61.5" text-anchor="middle">0.8</text>
<text class="b" x="175.6" y="2511.0" font-size="61.5" text-anchor="middle">0.7</text>
<text class="b" x="175.6" y="2641.6" font-size="61.5" text-anchor="middle">0.6</text>
<text class="b" x="1816.2" y="1522.1" font-size="61" text-anchor="middle">1572</text>
<text class="b" x="1816.2" y="1633.8" font-size="61" text-anchor="middle">1570</text>
<text class="b" x="1816.2" y="1745.5" font-size="61" text-anchor="middle">1568</text>
<text class="b" x="1816.2" y="1857.2" font-size="61" text-anchor="middle">1566</text>
<text class="b" x="1816.2" y="1968.9" font-size="61" text-anchor="middle">1564</text>
<text class="b" x="1816.2" y="2080.6" font-size="61" text-anchor="middle">1562</text>
<text class="b" x="1816.2" y="2192.3" font-size="61" text-anchor="middle">1560</text>
<text class="b" x="1816.2" y="2304.0" font-size="61" text-anchor="middle">1558</text>
<text class="b" x="1816.2" y="2415.7" font-size="61" text-anchor="middle">1556</text>
<text class="b" x="1816.2" y="2527.4" font-size="61" text-anchor="middle">1554</text>
<text class="b" x="1816.2" y="2639.1" font-size="61" text-anchor="middle">1552</text>
<text class="b" transform="translate(76.1 2036) rotate(-90)" font-size="66.5" text-anchor="middle">I<tspan dy="16.9">D</tspan><tspan dy="-16.9"> / I</tspan><tspan dy="16.9">G</tspan><tspan dy="-16.9"> ratio</tspan></text>
<text class="b" transform="translate(1985.3 2036) rotate(-90)" font-size="66" text-anchor="middle">G peak position (cm<tspan dy="-29.5">-1</tspan><tspan dy="29.5" dx="3">)</tspan></text>
<rect x="284.5" y="1480" width="30" height="29" fill="#000"/>
<polygon points="300.8,1586.4 319.5,1621 282,1621" fill="#ff0000"/>
<text x="377" y="1511.2" font-size="58.8">I<tspan dy="15.7">D</tspan><tspan dy="-15.7"> / I</tspan><tspan dy="15.7">G</tspan><tspan dy="-15.7"> Ratio</tspan></text>
<text x="374" y="1626.2" font-size="58.6">G peak position (cm<tspan dy="-25" dx="1">-1</tspan><tspan dy="25" dx="5">)</tspan></text>
<text class="b" x="1609" y="1608.3" font-size="95" text-anchor="middle">(b)</text>
<path d="M438.7 1985.8V2221.0M428.2 1985.8H449.2M428.2 2221.0H449.2" stroke="#000" stroke-width="3.0" fill="none"/>
<rect x="425.2" y="2088.7" width="27" height="29" fill="#000"/>
<path d="M803.5 2250.2V2341.2M793.0 2250.2H814.0M793.0 2341.2H814.0" stroke="#000" stroke-width="3.0" fill="none"/>
<rect x="790.0" y="2280.8" width="27" height="29" fill="#000"/>
<path d="M1167.0 2094.5V2127.3M1156.5 2094.5H1177.5M1156.5 2127.3H1177.5" stroke="#000" stroke-width="3.0" fill="none"/>
<rect x="1153.5" y="2096.4" width="27" height="29" fill="#000"/>
<path d="M1530.2 2231.0V2303.0M1519.7 2231.0H1540.7M1519.7 2303.0H1540.7" stroke="#000" stroke-width="3.0" fill="none"/>
<rect x="1516.7" y="2253.7" width="27" height="29" fill="#000"/>
<path d="M438.7 1703.0V1815.0M428.2 1703.0H449.2M428.2 1815.0H449.2" stroke="#ff0000" stroke-width="3.0" fill="none"/>
<polygon points="438.7,1737.4 457.7,1770.4 419.7,1770.4" fill="#ff0000"/>
<path d="M803.5 2399.5V2510.7M793.0 2399.5H814.0M793.0 2510.7H814.0" stroke="#ff0000" stroke-width="3.0" fill="none"/>
<polygon points="803.5,2434.8 822.5,2467.8 784.5,2467.8" fill="#ff0000"/>
<path d="M1167.0 1534.1V1646.4M1156.5 1534.1H1177.5M1156.5 1646.4H1177.5" stroke="#ff0000" stroke-width="3.0" fill="none"/>
<polygon points="1167.0,1568.5 1186.0,1601.5 1148.0,1601.5" fill="#ff0000"/>
<path d="M1530.2 1868.3V1980.6M1519.7 1868.3H1540.7M1519.7 1980.6H1540.7" stroke="#ff0000" stroke-width="3.0" fill="none"/>
<polygon points="1530.2,1904.0 1549.2,1937.0 1511.2,1937.0" fill="#ff0000"/>
<text class="b" transform="translate(466.8 2721.4) rotate(-25)" font-size="60.75" text-anchor="end">0.66 Pa / floating</text>
<text class="b" transform="translate(829.7 2720.0) rotate(-25)" font-size="60.75" text-anchor="end">0.66 Pa / −100V</text>
<text class="b" transform="translate(1193.4 2721.2) rotate(-25)" font-size="60.75" text-anchor="end">2.66 Pa / floating</text>
<text class="b" transform="translate(1556.4 2719.5) rotate(-25)" font-size="60.75" text-anchor="end">2.66 Pa / −100V</text>
</g>
</g>
</svg>
</div>
</body></html>
